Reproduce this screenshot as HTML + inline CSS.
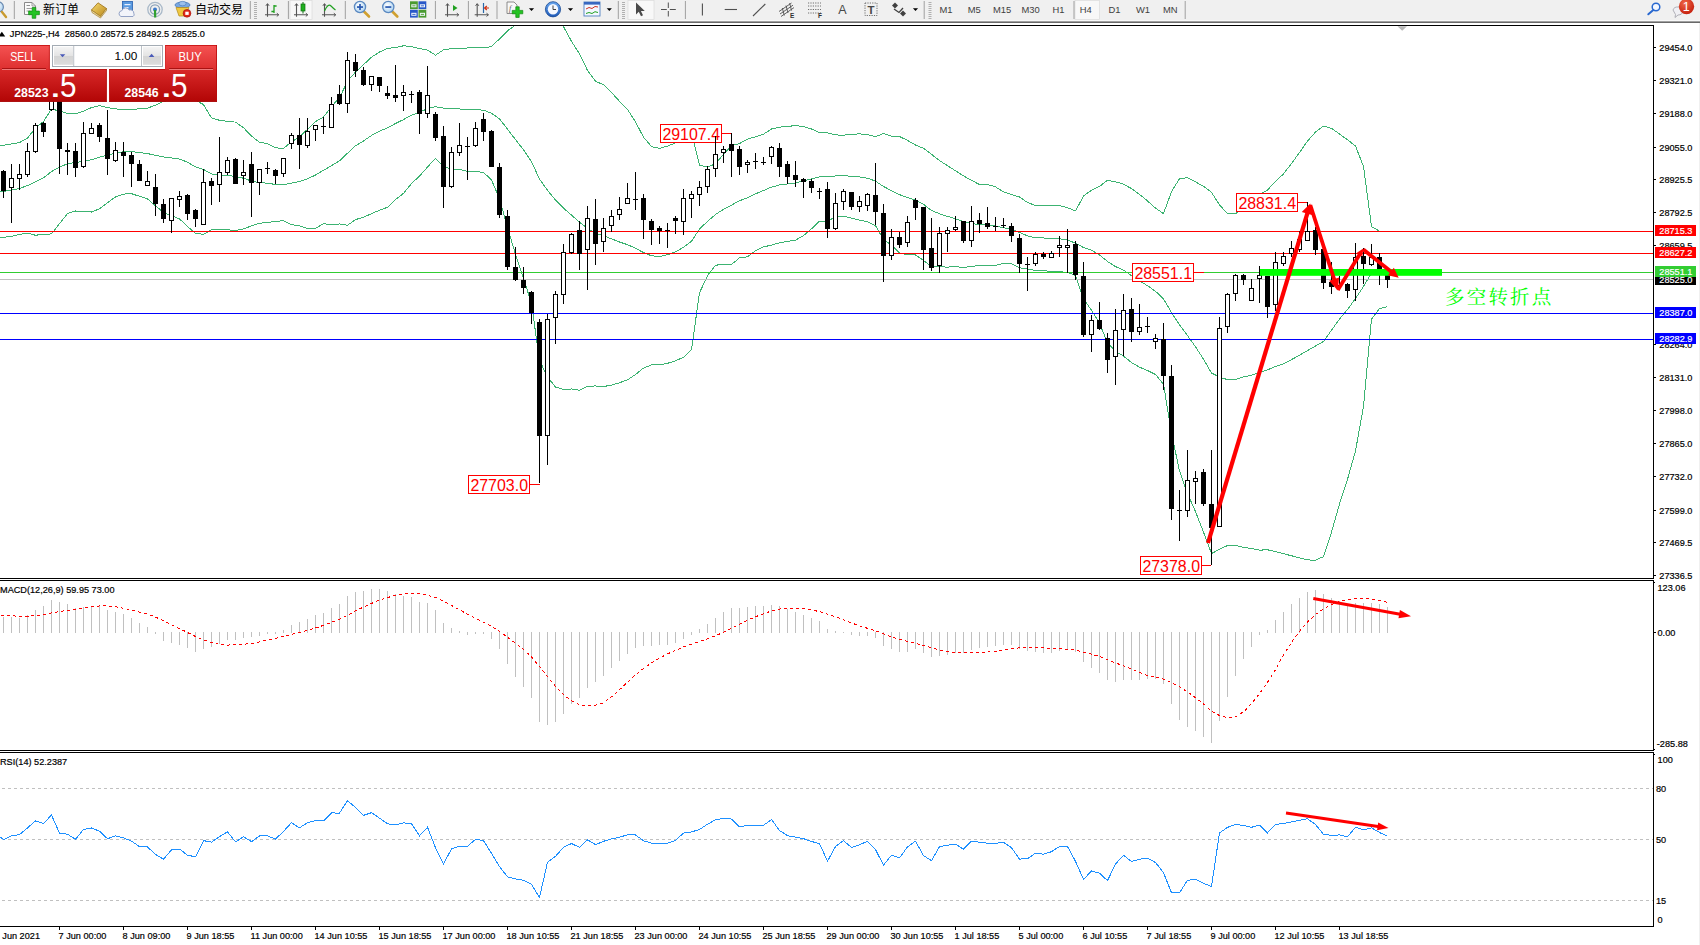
<!DOCTYPE html>
<html><head><meta charset="utf-8"><title>JPN225 H4</title>
<style>html,body{margin:0;padding:0;background:#fff;overflow:hidden}svg{display:block}text{white-space:pre}</style>
</head><body>
<svg width="1700" height="945" viewBox="0 0 1700 945">
<rect width="1700" height="945" fill="#fff"/>
<defs><clipPath id="cm"><rect x="0" y="26" width="1653" height="552"/></clipPath><clipPath id="cd"><rect x="0" y="581" width="1653" height="169"/></clipPath><clipPath id="cr"><rect x="0" y="753" width="1653" height="173"/></clipPath></defs>
<g id="main" clip-path="url(#cm)">
<polyline points="-4.5,145.54 3.5,145.23 11.5,143.95 19.5,142.55 27.5,137.97 35.5,128.03 43.5,121.47 51.5,109.06 59.5,110.93 67.5,113.65 75.5,114 83.5,111.2 91.5,107.57 99.5,105.75 107.5,107.6 115.5,108.93 123.5,109.42 131.5,109.48 139.5,108.74 147.5,108.1 155.5,105.19 163.5,101.32 171.5,100.11 179.5,99.19 187.5,97.83 195.5,100.34 203.5,104.57 211.5,117.91 219.5,120.29 227.5,121.3 235.5,122.11 243.5,127.67 251.5,136.1 259.5,142.17 267.5,143.68 275.5,147.84 283.5,148.39 291.5,141.78 299.5,136.86 307.5,129.29 315.5,121.61 323.5,116.96 331.5,106.48 339.5,97.87 347.5,81.15 355.5,72.05 363.5,64.65 371.5,57.22 379.5,51.96 387.5,48.46 395.5,47.53 403.5,45.79 411.5,46.64 419.5,48.55 427.5,50.16 435.5,55.14 443.5,49.84 451.5,48.65 459.5,48.66 467.5,48 475.5,47.99 483.5,47.92 491.5,46.5 499.5,38.91 507.5,30.81 515.5,25.06 523.5,21.33 531.5,19.45 539.5,-2.12 547.5,3.53 555.5,13.21 563.5,26.7 571.5,41.26 579.5,53.99 587.5,70.45 595.5,81.25 603.5,84.78 611.5,92.53 619.5,101.29 627.5,109.4 635.5,121.82 643.5,137.17 651.5,146.59 659.5,148.4 667.5,146.05 675.5,142.85 683.5,137.29 691.5,133.42 699.5,165 707.5,167.25 715.5,163.67 723.5,154.25 731.5,145.73 739.5,143.64 747.5,139.11 755.5,136.87 763.5,134.2 771.5,129.02 779.5,127.15 787.5,126.3 795.5,125.72 803.5,126.47 811.5,128.97 819.5,132.64 827.5,132.75 835.5,134.9 843.5,135.2 851.5,134.35 859.5,133.88 867.5,134.63 875.5,136.56 883.5,133.54 891.5,136.23 899.5,136.54 907.5,140.35 915.5,145.03 923.5,148.27 931.5,154.32 939.5,160.61 947.5,165.68 955.5,170.81 963.5,175.87 971.5,180.32 979.5,184.56 987.5,184.46 995.5,186.87 1003.5,191.94 1011.5,194.61 1019.5,197.02 1027.5,202.52 1035.5,205.54 1043.5,205.51 1051.5,205.68 1059.5,205.68 1067.5,207.68 1075.5,210.9 1083.5,196.11 1091.5,190.17 1099.5,186.5 1107.5,180.2 1115.5,181.84 1123.5,184.11 1131.5,188.63 1139.5,194.35 1147.5,200.95 1155.5,208.09 1163.5,213.58 1171.5,191.64 1179.5,178.71 1187.5,177.65 1195.5,181.93 1203.5,186.21 1211.5,192.33 1219.5,204.9 1227.5,213.78 1235.5,213.8 1243.5,206.38 1251.5,201.96 1259.5,194.94 1267.5,190 1275.5,181.35 1283.5,173.92 1291.5,163.48 1299.5,152.57 1307.5,141.06 1315.5,132.04 1323.5,126.14 1331.5,128.32 1339.5,134.02 1347.5,139.76 1355.5,146.05 1363.5,166.41 1371.5,226.57 1379.5,231.24 1387.5,231.86" fill="none" stroke="#3cb371" stroke-width="1" shape-rendering="crispEdges"/>
<polyline points="-4.5,191.79 3.5,191.33 11.5,190.14 19.5,188.43 27.5,185.56 35.5,181.65 43.5,177.86 51.5,171.51 59.5,167.29 67.5,163.63 75.5,162.5 83.5,161.32 91.5,159.81 99.5,157.23 107.5,155.16 115.5,152.93 123.5,151.75 131.5,151.58 139.5,152.52 147.5,153.53 155.5,155.45 163.5,156.89 171.5,157.91 179.5,159.02 187.5,162.17 195.5,166.89 203.5,169.42 211.5,173.89 219.5,175.09 227.5,175.51 235.5,176.33 243.5,178.24 251.5,181.02 259.5,182.67 267.5,183.19 275.5,184.5 283.5,184.63 291.5,183.17 299.5,181.41 307.5,178.9 315.5,174.99 323.5,170.32 331.5,165.56 339.5,160.93 347.5,153.23 355.5,145.83 363.5,140.94 371.5,135.44 379.5,131.11 387.5,127.86 395.5,123.52 403.5,119.58 411.5,115.09 419.5,112.31 427.5,108.61 435.5,106.68 443.5,108.1 451.5,108.96 459.5,108.95 467.5,109.67 475.5,109.82 483.5,110.11 491.5,113.27 499.5,118.83 507.5,129.17 515.5,139.61 523.5,149.75 531.5,161.59 539.5,179.08 547.5,190.28 555.5,200.11 563.5,208.1 571.5,215.12 579.5,222.16 587.5,228.31 595.5,233.61 603.5,235.65 611.5,238.85 619.5,242.02 627.5,244.66 635.5,248.18 643.5,252.61 651.5,255.76 659.5,256.57 667.5,254.72 675.5,251.79 683.5,247.32 691.5,241.37 699.5,228.94 707.5,221.44 715.5,214.45 723.5,209.3 731.5,205.13 739.5,200.74 747.5,197.93 755.5,193.82 763.5,190.55 771.5,187.08 779.5,184.98 787.5,183.89 795.5,182.92 803.5,181.02 811.5,178.92 819.5,176.91 827.5,176.89 835.5,175.98 843.5,175.64 851.5,176.25 859.5,176.97 867.5,178.22 875.5,181.11 883.5,186.45 891.5,190.76 899.5,194.67 907.5,197.64 915.5,199.99 923.5,204.37 931.5,210.39 939.5,213.73 947.5,216.38 955.5,218.74 963.5,221.67 971.5,223.37 979.5,225.01 987.5,224.88 995.5,226.05 1003.5,227.74 1011.5,229.23 1019.5,232.37 1027.5,235.84 1035.5,237.95 1043.5,237.96 1051.5,238.78 1059.5,238.78 1067.5,239.92 1075.5,243.26 1083.5,247.52 1091.5,250.17 1099.5,254.93 1107.5,261.47 1115.5,266.6 1123.5,270.06 1131.5,275.61 1139.5,280.75 1147.5,285.7 1155.5,291.29 1163.5,298.85 1171.5,312.51 1179.5,324.79 1187.5,335.62 1195.5,346.79 1203.5,359.18 1211.5,372.96 1219.5,377.13 1227.5,379.62 1235.5,379.63 1243.5,376.86 1251.5,375.22 1259.5,372.55 1267.5,369.87 1275.5,366.53 1283.5,363.82 1291.5,359.62 1299.5,355.23 1307.5,350.51 1315.5,346.07 1323.5,341.39 1331.5,330.27 1339.5,319.02 1347.5,309.55 1355.5,298.49 1363.5,286.45 1371.5,272.87 1379.5,269.93 1387.5,269.18" fill="none" stroke="#3cb371" stroke-width="1" shape-rendering="crispEdges"/>
<polyline points="-4.5,238.04 3.5,237.42 11.5,236.32 19.5,234.32 27.5,233.15 35.5,235.26 43.5,234.24 51.5,233.95 59.5,223.65 67.5,213.61 75.5,211 83.5,211.44 91.5,212.04 99.5,208.72 107.5,202.73 115.5,196.93 123.5,194.07 131.5,193.68 139.5,196.3 147.5,198.96 155.5,205.71 163.5,212.45 171.5,215.71 179.5,218.85 187.5,226.51 195.5,233.44 203.5,234.28 211.5,229.88 219.5,229.88 227.5,229.71 235.5,230.54 243.5,228.81 251.5,225.95 259.5,223.16 267.5,222.7 275.5,221.16 283.5,220.88 291.5,224.56 299.5,225.96 307.5,228.52 315.5,228.36 323.5,223.67 331.5,224.65 339.5,223.99 347.5,225.31 355.5,219.6 363.5,217.24 371.5,213.67 379.5,210.25 387.5,207.26 395.5,199.52 403.5,193.36 411.5,183.55 419.5,176.07 427.5,167.06 435.5,158.23 443.5,166.36 451.5,169.27 459.5,169.25 467.5,171.34 475.5,171.66 483.5,172.3 491.5,180.04 499.5,198.75 507.5,227.54 515.5,254.16 523.5,278.16 531.5,303.73 539.5,360.28 547.5,377.02 555.5,387.01 563.5,389.51 571.5,388.98 579.5,390.33 587.5,386.18 595.5,385.96 603.5,386.52 611.5,385.17 619.5,382.74 627.5,379.92 635.5,374.53 643.5,368.06 651.5,364.93 659.5,364.75 667.5,363.38 675.5,360.72 683.5,357.34 691.5,349.32 699.5,292.89 707.5,275.64 715.5,265.23 723.5,264.35 731.5,264.53 739.5,257.83 747.5,256.75 755.5,250.78 763.5,246.89 771.5,245.14 779.5,242.81 787.5,241.48 795.5,240.13 803.5,235.57 811.5,228.86 819.5,221.19 827.5,221.02 835.5,217.06 843.5,216.07 851.5,218.14 859.5,220.05 867.5,221.8 875.5,225.66 883.5,239.37 891.5,245.29 899.5,252.79 907.5,254.92 915.5,254.95 923.5,260.47 931.5,266.46 939.5,266.85 947.5,267.07 955.5,266.67 963.5,267.47 971.5,266.41 979.5,265.47 987.5,265.29 995.5,265.23 1003.5,263.55 1011.5,263.85 1019.5,267.73 1027.5,269.16 1035.5,270.35 1043.5,270.42 1051.5,271.87 1059.5,271.87 1067.5,272.16 1075.5,275.62 1083.5,298.93 1091.5,310.17 1099.5,323.36 1107.5,342.73 1115.5,351.36 1123.5,356.02 1131.5,362.59 1139.5,367.16 1147.5,370.46 1155.5,374.49 1163.5,384.13 1171.5,433.38 1179.5,470.88 1187.5,493.59 1195.5,511.65 1203.5,532.15 1211.5,553.58 1219.5,549.37 1227.5,545.46 1235.5,545.45 1243.5,547.35 1251.5,548.47 1259.5,550.17 1267.5,549.75 1275.5,551.7 1283.5,553.72 1291.5,555.75 1299.5,557.88 1307.5,559.97 1315.5,560.09 1323.5,556.63 1331.5,532.21 1339.5,504.01 1347.5,479.34 1355.5,450.93 1363.5,406.5 1371.5,319.16 1379.5,308.61 1387.5,306.51" fill="none" stroke="#3cb371" stroke-width="1" shape-rendering="crispEdges"/>
<line x1="0" y1="231.5" x2="1653" y2="231.5" stroke="#ff0000" stroke-width="1"/>
<line x1="0" y1="253.5" x2="1653" y2="253.5" stroke="#ff0000" stroke-width="1"/>
<line x1="0" y1="272.5" x2="1653" y2="272.5" stroke="#32cd32" stroke-width="1"/>
<line x1="0" y1="279.5" x2="1653" y2="279.5" stroke="#c0c0c0" stroke-width="1"/>
<line x1="0" y1="313.5" x2="1653" y2="313.5" stroke="#0000ff" stroke-width="1"/>
<line x1="0" y1="339.5" x2="1653" y2="339.5" stroke="#0000ff" stroke-width="1"/>

<g shape-rendering="crispEdges"><rect x="722" y="133" width="9" height="1" fill="#ff0000"/>
<rect x="660" y="124" width="62" height="19" fill="#ff0000"/><rect x="661" y="125" width="60" height="17" fill="#fff"/></g>
<text x="662.4" y="140.1" font-family="'Liberation Sans', sans-serif" font-size="17" fill="#ff0000" text-anchor="start" font-weight="normal" textLength="57.6" lengthAdjust="spacingAndGlyphs">29107.4</text>
<g shape-rendering="crispEdges"><rect x="530" y="484" width="10" height="1" fill="#ff0000"/>
<rect x="468" y="475" width="62" height="19" fill="#ff0000"/><rect x="469" y="476" width="60" height="17" fill="#fff"/></g>
<text x="470.4" y="491.1" font-family="'Liberation Sans', sans-serif" font-size="17" fill="#ff0000" text-anchor="start" font-weight="normal" textLength="57.6" lengthAdjust="spacingAndGlyphs">27703.0</text>
<g shape-rendering="crispEdges"><rect x="1194" y="272" width="10" height="1" fill="#ff0000"/>
<rect x="1132" y="263" width="62" height="19" fill="#ff0000"/><rect x="1133" y="264" width="60" height="17" fill="#fff"/></g>
<text x="1134.4" y="279.1" font-family="'Liberation Sans', sans-serif" font-size="17" fill="#ff0000" text-anchor="start" font-weight="normal" textLength="57.6" lengthAdjust="spacingAndGlyphs">28551.1</text>
<g shape-rendering="crispEdges"><rect x="1298" y="202" width="10" height="1" fill="#ff0000"/>
<rect x="1236" y="193" width="62" height="19" fill="#ff0000"/><rect x="1237" y="194" width="60" height="17" fill="#fff"/></g>
<text x="1238.4" y="209.1" font-family="'Liberation Sans', sans-serif" font-size="17" fill="#ff0000" text-anchor="start" font-weight="normal" textLength="57.6" lengthAdjust="spacingAndGlyphs">28831.4</text>
<g shape-rendering="crispEdges"><rect x="1202" y="565" width="9" height="1" fill="#ff0000"/>
<rect x="1140" y="556" width="62" height="19" fill="#ff0000"/><rect x="1141" y="557" width="60" height="17" fill="#fff"/></g>
<text x="1142.4" y="572.1" font-family="'Liberation Sans', sans-serif" font-size="17" fill="#ff0000" text-anchor="start" font-weight="normal" textLength="57.6" lengthAdjust="spacingAndGlyphs">27378.0</text>
<g shape-rendering="crispEdges">
<rect x="3" y="170" width="1" height="28" fill="#000"/>
<rect x="1" y="171" width="5" height="20" fill="#000"/>
<rect x="11" y="164" width="1" height="59" fill="#000"/>
<rect x="9" y="178" width="5" height="10" fill="#000"/><rect x="10" y="179" width="3" height="8" fill="#fff"/>
<rect x="19" y="164" width="1" height="26" fill="#000"/>
<rect x="17" y="174" width="5" height="5" fill="#000"/><rect x="18" y="175" width="3" height="3" fill="#fff"/>
<rect x="27" y="143" width="1" height="34" fill="#000"/>
<rect x="25" y="151" width="5" height="24" fill="#000"/><rect x="26" y="152" width="3" height="22" fill="#fff"/>
<rect x="35" y="123" width="1" height="30" fill="#000"/>
<rect x="33" y="125" width="5" height="27" fill="#000"/><rect x="34" y="126" width="3" height="25" fill="#fff"/>
<rect x="43" y="122" width="1" height="15" fill="#000"/>
<rect x="41" y="123" width="5" height="9" fill="#000"/>
<rect x="51" y="93" width="1" height="18" fill="#000"/>
<rect x="49" y="97" width="5" height="13" fill="#000"/><rect x="50" y="98" width="3" height="11" fill="#fff"/>
<rect x="59" y="90" width="1" height="84" fill="#000"/>
<rect x="57" y="97" width="5" height="52" fill="#000"/>
<rect x="67" y="143" width="1" height="32" fill="#000"/>
<rect x="65" y="150" width="5" height="2" fill="#000"/>
<rect x="75" y="143" width="1" height="34" fill="#000"/>
<rect x="73" y="151" width="5" height="17" fill="#000"/>
<rect x="83" y="122" width="1" height="46" fill="#000"/>
<rect x="81" y="133" width="5" height="34" fill="#000"/><rect x="82" y="134" width="3" height="32" fill="#fff"/>
<rect x="91" y="123" width="1" height="11" fill="#000"/>
<rect x="89" y="128" width="5" height="6" fill="#000"/><rect x="90" y="129" width="3" height="4" fill="#fff"/>
<rect x="99" y="123" width="1" height="19" fill="#000"/>
<rect x="97" y="125" width="5" height="12" fill="#000"/>
<rect x="107" y="110" width="1" height="65" fill="#000"/>
<rect x="105" y="138" width="5" height="21" fill="#000"/>
<rect x="115" y="142" width="1" height="20" fill="#000"/>
<rect x="113" y="150" width="5" height="11" fill="#000"/><rect x="114" y="151" width="3" height="9" fill="#fff"/>
<rect x="123" y="142" width="1" height="35" fill="#000"/>
<rect x="121" y="152" width="5" height="4" fill="#000"/>
<rect x="131" y="152" width="1" height="35" fill="#000"/>
<rect x="129" y="155" width="5" height="9" fill="#000"/>
<rect x="139" y="160" width="1" height="21" fill="#000"/>
<rect x="137" y="164" width="5" height="17" fill="#000"/>
<rect x="147" y="171" width="1" height="15" fill="#000"/>
<rect x="145" y="181" width="5" height="5" fill="#000"/><rect x="146" y="182" width="3" height="3" fill="#fff"/>
<rect x="155" y="174" width="1" height="42" fill="#000"/>
<rect x="153" y="187" width="5" height="17" fill="#000"/>
<rect x="163" y="199" width="1" height="24" fill="#000"/>
<rect x="161" y="204" width="5" height="15" fill="#000"/>
<rect x="171" y="198" width="1" height="35" fill="#000"/>
<rect x="169" y="198" width="5" height="23" fill="#000"/><rect x="170" y="199" width="3" height="21" fill="#fff"/>
<rect x="179" y="191" width="1" height="16" fill="#000"/>
<rect x="177" y="196" width="5" height="4" fill="#000"/><rect x="178" y="197" width="3" height="2" fill="#fff"/>
<rect x="187" y="194" width="1" height="26" fill="#000"/>
<rect x="185" y="195" width="5" height="19" fill="#000"/>
<rect x="195" y="209" width="1" height="18" fill="#000"/>
<rect x="193" y="210" width="5" height="9" fill="#000"/>
<rect x="203" y="169" width="1" height="56" fill="#000"/>
<rect x="201" y="182" width="5" height="43" fill="#000"/><rect x="202" y="183" width="3" height="41" fill="#fff"/>
<rect x="211" y="178" width="1" height="27" fill="#000"/>
<rect x="209" y="181" width="5" height="5" fill="#000"/>
<rect x="219" y="137" width="1" height="65" fill="#000"/>
<rect x="217" y="172" width="5" height="13" fill="#000"/><rect x="218" y="173" width="3" height="11" fill="#fff"/>
<rect x="227" y="157" width="1" height="18" fill="#000"/>
<rect x="225" y="160" width="5" height="13" fill="#000"/><rect x="226" y="161" width="3" height="11" fill="#fff"/>
<rect x="235" y="158" width="1" height="26" fill="#000"/>
<rect x="233" y="159" width="5" height="25" fill="#000"/>
<rect x="243" y="160" width="1" height="25" fill="#000"/>
<rect x="241" y="172" width="5" height="4" fill="#000"/><rect x="242" y="173" width="3" height="2" fill="#fff"/>
<rect x="251" y="152" width="1" height="65" fill="#000"/>
<rect x="249" y="164" width="5" height="19" fill="#000"/>
<rect x="259" y="169" width="1" height="26" fill="#000"/>
<rect x="257" y="169" width="5" height="14" fill="#000"/><rect x="258" y="170" width="3" height="12" fill="#fff"/>
<rect x="267" y="162" width="1" height="12" fill="#000"/>
<rect x="265" y="168" width="5" height="1" fill="#000"/>
<rect x="275" y="169" width="1" height="15" fill="#000"/>
<rect x="273" y="170" width="5" height="6" fill="#000"/>
<rect x="283" y="158" width="1" height="19" fill="#000"/>
<rect x="281" y="158" width="5" height="16" fill="#000"/><rect x="282" y="159" width="3" height="14" fill="#fff"/>
<rect x="291" y="133" width="1" height="16" fill="#000"/>
<rect x="289" y="135" width="5" height="9" fill="#000"/><rect x="290" y="136" width="3" height="7" fill="#fff"/>
<rect x="299" y="118" width="1" height="51" fill="#000"/>
<rect x="297" y="135" width="5" height="10" fill="#000"/>
<rect x="307" y="118" width="1" height="30" fill="#000"/>
<rect x="305" y="131" width="5" height="15" fill="#000"/><rect x="306" y="132" width="3" height="13" fill="#fff"/>
<rect x="315" y="125" width="1" height="16" fill="#000"/>
<rect x="313" y="125" width="5" height="5" fill="#000"/><rect x="314" y="126" width="3" height="3" fill="#fff"/>
<rect x="323" y="117" width="1" height="17" fill="#000"/>
<rect x="321" y="126" width="5" height="1" fill="#000"/>
<rect x="331" y="97" width="1" height="31" fill="#000"/>
<rect x="329" y="104" width="5" height="24" fill="#000"/><rect x="330" y="105" width="3" height="22" fill="#fff"/>
<rect x="339" y="85" width="1" height="20" fill="#000"/>
<rect x="337" y="94" width="5" height="10" fill="#000"/>
<rect x="347" y="52" width="1" height="61" fill="#000"/>
<rect x="345" y="60" width="5" height="44" fill="#000"/><rect x="346" y="61" width="3" height="42" fill="#fff"/>
<rect x="355" y="54" width="1" height="23" fill="#000"/>
<rect x="353" y="62" width="5" height="9" fill="#000"/>
<rect x="363" y="67" width="1" height="19" fill="#000"/>
<rect x="361" y="70" width="5" height="15" fill="#000"/>
<rect x="371" y="76" width="1" height="15" fill="#000"/>
<rect x="369" y="76" width="5" height="9" fill="#000"/><rect x="370" y="77" width="3" height="7" fill="#fff"/>
<rect x="379" y="77" width="1" height="15" fill="#000"/>
<rect x="377" y="77" width="5" height="9" fill="#000"/>
<rect x="387" y="86" width="1" height="13" fill="#000"/>
<rect x="385" y="93" width="5" height="3" fill="#000"/>
<rect x="395" y="65" width="1" height="37" fill="#000"/>
<rect x="393" y="95" width="5" height="3" fill="#000"/>
<rect x="403" y="85" width="1" height="26" fill="#000"/>
<rect x="401" y="92" width="5" height="4" fill="#000"/><rect x="402" y="93" width="3" height="2" fill="#fff"/>
<rect x="411" y="91" width="1" height="12" fill="#000"/>
<rect x="409" y="94" width="5" height="1" fill="#000"/>
<rect x="419" y="90" width="1" height="44" fill="#000"/>
<rect x="417" y="92" width="5" height="22" fill="#000"/>
<rect x="427" y="66" width="1" height="52" fill="#000"/>
<rect x="425" y="95" width="5" height="19" fill="#000"/><rect x="426" y="96" width="3" height="17" fill="#fff"/>
<rect x="435" y="112" width="1" height="29" fill="#000"/>
<rect x="433" y="114" width="5" height="24" fill="#000"/>
<rect x="443" y="126" width="1" height="82" fill="#000"/>
<rect x="441" y="136" width="5" height="51" fill="#000"/>
<rect x="451" y="147" width="1" height="41" fill="#000"/>
<rect x="449" y="152" width="5" height="35" fill="#000"/><rect x="450" y="153" width="3" height="33" fill="#fff"/>
<rect x="459" y="123" width="1" height="33" fill="#000"/>
<rect x="457" y="145" width="5" height="8" fill="#000"/><rect x="458" y="146" width="3" height="6" fill="#fff"/>
<rect x="467" y="137" width="1" height="43" fill="#000"/>
<rect x="465" y="146" width="5" height="1" fill="#000"/>
<rect x="475" y="122" width="1" height="25" fill="#000"/>
<rect x="473" y="128" width="5" height="18" fill="#000"/><rect x="474" y="129" width="3" height="16" fill="#fff"/>
<rect x="483" y="113" width="1" height="28" fill="#000"/>
<rect x="481" y="119" width="5" height="13" fill="#000"/>
<rect x="491" y="130" width="1" height="37" fill="#000"/>
<rect x="489" y="131" width="5" height="36" fill="#000"/>
<rect x="499" y="163" width="1" height="55" fill="#000"/>
<rect x="497" y="167" width="5" height="48" fill="#000"/>
<rect x="507" y="210" width="1" height="60" fill="#000"/>
<rect x="505" y="216" width="5" height="51" fill="#000"/>
<rect x="515" y="247" width="1" height="34" fill="#000"/>
<rect x="513" y="267" width="5" height="13" fill="#000"/>
<rect x="523" y="267" width="1" height="27" fill="#000"/>
<rect x="521" y="280" width="5" height="8" fill="#000"/>
<rect x="531" y="291" width="1" height="33" fill="#000"/>
<rect x="529" y="292" width="5" height="21" fill="#000"/>
<rect x="539" y="319" width="1" height="164" fill="#000"/>
<rect x="537" y="322" width="5" height="114" fill="#000"/>
<rect x="547" y="314" width="1" height="151" fill="#000"/>
<rect x="545" y="319" width="5" height="117" fill="#000"/><rect x="546" y="320" width="3" height="115" fill="#fff"/>
<rect x="555" y="291" width="1" height="53" fill="#000"/>
<rect x="553" y="294" width="5" height="24" fill="#000"/><rect x="554" y="295" width="3" height="22" fill="#fff"/>
<rect x="563" y="244" width="1" height="60" fill="#000"/>
<rect x="561" y="252" width="5" height="43" fill="#000"/><rect x="562" y="253" width="3" height="41" fill="#fff"/>
<rect x="571" y="233" width="1" height="21" fill="#000"/>
<rect x="569" y="234" width="5" height="19" fill="#000"/><rect x="570" y="235" width="3" height="17" fill="#fff"/>
<rect x="579" y="221" width="1" height="49" fill="#000"/>
<rect x="577" y="230" width="5" height="24" fill="#000"/>
<rect x="587" y="206" width="1" height="84" fill="#000"/>
<rect x="585" y="218" width="5" height="32" fill="#000"/><rect x="586" y="219" width="3" height="30" fill="#fff"/>
<rect x="595" y="199" width="1" height="66" fill="#000"/>
<rect x="593" y="219" width="5" height="25" fill="#000"/>
<rect x="603" y="218" width="1" height="34" fill="#000"/>
<rect x="601" y="228" width="5" height="14" fill="#000"/><rect x="602" y="229" width="3" height="12" fill="#fff"/>
<rect x="611" y="210" width="1" height="22" fill="#000"/>
<rect x="609" y="216" width="5" height="10" fill="#000"/><rect x="610" y="217" width="3" height="8" fill="#fff"/>
<rect x="619" y="197" width="1" height="23" fill="#000"/>
<rect x="617" y="209" width="5" height="6" fill="#000"/><rect x="618" y="210" width="3" height="4" fill="#fff"/>
<rect x="627" y="183" width="1" height="21" fill="#000"/>
<rect x="625" y="198" width="5" height="6" fill="#000"/><rect x="626" y="199" width="3" height="4" fill="#fff"/>
<rect x="635" y="172" width="1" height="38" fill="#000"/>
<rect x="633" y="199" width="5" height="1" fill="#000"/>
<rect x="643" y="194" width="1" height="45" fill="#000"/>
<rect x="641" y="198" width="5" height="22" fill="#000"/>
<rect x="651" y="219" width="1" height="26" fill="#000"/>
<rect x="649" y="221" width="5" height="9" fill="#000"/>
<rect x="659" y="226" width="1" height="18" fill="#000"/>
<rect x="657" y="228" width="5" height="3" fill="#000"/>
<rect x="667" y="223" width="1" height="25" fill="#000"/>
<rect x="665" y="230" width="5" height="1" fill="#000"/>
<rect x="675" y="216" width="1" height="18" fill="#000"/>
<rect x="673" y="218" width="5" height="3" fill="#000"/>
<rect x="683" y="189" width="1" height="46" fill="#000"/>
<rect x="681" y="198" width="5" height="24" fill="#000"/><rect x="682" y="199" width="3" height="22" fill="#fff"/>
<rect x="691" y="191" width="1" height="27" fill="#000"/>
<rect x="689" y="194" width="5" height="5" fill="#000"/><rect x="690" y="195" width="3" height="3" fill="#fff"/>
<rect x="699" y="181" width="1" height="25" fill="#000"/>
<rect x="697" y="187" width="5" height="8" fill="#000"/><rect x="698" y="188" width="3" height="6" fill="#fff"/>
<rect x="707" y="166" width="1" height="27" fill="#000"/>
<rect x="705" y="169" width="5" height="18" fill="#000"/><rect x="706" y="170" width="3" height="16" fill="#fff"/>
<rect x="715" y="136" width="1" height="41" fill="#000"/>
<rect x="713" y="154" width="5" height="15" fill="#000"/><rect x="714" y="155" width="3" height="13" fill="#fff"/>
<rect x="723" y="146" width="1" height="17" fill="#000"/>
<rect x="721" y="149" width="5" height="4" fill="#000"/><rect x="722" y="150" width="3" height="2" fill="#fff"/>
<rect x="731" y="133" width="1" height="44" fill="#000"/>
<rect x="729" y="144" width="5" height="7" fill="#000"/>
<rect x="739" y="146" width="1" height="29" fill="#000"/>
<rect x="737" y="149" width="5" height="18" fill="#000"/>
<rect x="747" y="160" width="1" height="13" fill="#000"/>
<rect x="745" y="162" width="5" height="3" fill="#000"/><rect x="746" y="163" width="3" height="1" fill="#fff"/>
<rect x="755" y="153" width="1" height="16" fill="#000"/>
<rect x="753" y="161" width="5" height="1" fill="#000"/>
<rect x="763" y="157" width="1" height="8" fill="#000"/>
<rect x="761" y="162" width="5" height="1" fill="#000"/>
<rect x="771" y="146" width="1" height="18" fill="#000"/>
<rect x="769" y="147" width="5" height="10" fill="#000"/><rect x="770" y="148" width="3" height="8" fill="#fff"/>
<rect x="779" y="143" width="1" height="34" fill="#000"/>
<rect x="777" y="148" width="5" height="19" fill="#000"/>
<rect x="787" y="161" width="1" height="23" fill="#000"/>
<rect x="785" y="164" width="5" height="13" fill="#000"/>
<rect x="795" y="161" width="1" height="26" fill="#000"/>
<rect x="793" y="175" width="5" height="5" fill="#000"/>
<rect x="803" y="178" width="1" height="20" fill="#000"/>
<rect x="801" y="179" width="5" height="3" fill="#000"/>
<rect x="811" y="179" width="1" height="14" fill="#000"/>
<rect x="809" y="181" width="5" height="7" fill="#000"/>
<rect x="819" y="188" width="1" height="11" fill="#000"/>
<rect x="817" y="191" width="5" height="1" fill="#000"/>
<rect x="827" y="182" width="1" height="56" fill="#000"/>
<rect x="825" y="189" width="5" height="40" fill="#000"/>
<rect x="835" y="193" width="1" height="37" fill="#000"/>
<rect x="833" y="203" width="5" height="26" fill="#000"/><rect x="834" y="204" width="3" height="24" fill="#fff"/>
<rect x="843" y="189" width="1" height="21" fill="#000"/>
<rect x="841" y="191" width="5" height="11" fill="#000"/><rect x="842" y="192" width="3" height="9" fill="#fff"/>
<rect x="851" y="192" width="1" height="18" fill="#000"/>
<rect x="849" y="192" width="5" height="15" fill="#000"/>
<rect x="859" y="196" width="1" height="16" fill="#000"/>
<rect x="857" y="201" width="5" height="6" fill="#000"/><rect x="858" y="202" width="3" height="4" fill="#fff"/>
<rect x="867" y="193" width="1" height="18" fill="#000"/>
<rect x="865" y="194" width="5" height="12" fill="#000"/><rect x="866" y="195" width="3" height="10" fill="#fff"/>
<rect x="875" y="163" width="1" height="62" fill="#000"/>
<rect x="873" y="195" width="5" height="17" fill="#000"/>
<rect x="883" y="204" width="1" height="78" fill="#000"/>
<rect x="881" y="213" width="5" height="43" fill="#000"/>
<rect x="891" y="229" width="1" height="31" fill="#000"/>
<rect x="889" y="237" width="5" height="19" fill="#000"/><rect x="890" y="238" width="3" height="17" fill="#fff"/>
<rect x="899" y="232" width="1" height="16" fill="#000"/>
<rect x="897" y="237" width="5" height="8" fill="#000"/>
<rect x="907" y="216" width="1" height="31" fill="#000"/>
<rect x="905" y="222" width="5" height="21" fill="#000"/><rect x="906" y="223" width="3" height="19" fill="#fff"/>
<rect x="915" y="198" width="1" height="22" fill="#000"/>
<rect x="913" y="200" width="5" height="8" fill="#000"/>
<rect x="923" y="207" width="1" height="63" fill="#000"/>
<rect x="921" y="207" width="5" height="43" fill="#000"/>
<rect x="931" y="218" width="1" height="53" fill="#000"/>
<rect x="929" y="248" width="5" height="20" fill="#000"/>
<rect x="939" y="227" width="1" height="46" fill="#000"/>
<rect x="937" y="233" width="5" height="33" fill="#000"/><rect x="938" y="234" width="3" height="31" fill="#fff"/>
<rect x="947" y="227" width="1" height="25" fill="#000"/>
<rect x="945" y="230" width="5" height="4" fill="#000"/><rect x="946" y="231" width="3" height="2" fill="#fff"/>
<rect x="955" y="216" width="1" height="15" fill="#000"/>
<rect x="953" y="227" width="5" height="3" fill="#000"/><rect x="954" y="228" width="3" height="1" fill="#fff"/>
<rect x="963" y="221" width="1" height="22" fill="#000"/>
<rect x="961" y="221" width="5" height="20" fill="#000"/>
<rect x="971" y="206" width="1" height="41" fill="#000"/>
<rect x="969" y="221" width="5" height="20" fill="#000"/><rect x="970" y="222" width="3" height="18" fill="#fff"/>
<rect x="979" y="213" width="1" height="20" fill="#000"/>
<rect x="977" y="220" width="5" height="4" fill="#000"/>
<rect x="987" y="207" width="1" height="22" fill="#000"/>
<rect x="985" y="223" width="5" height="4" fill="#000"/>
<rect x="995" y="217" width="1" height="14" fill="#000"/>
<rect x="993" y="226" width="5" height="1" fill="#000"/>
<rect x="1003" y="218" width="1" height="10" fill="#000"/>
<rect x="1001" y="225" width="5" height="1" fill="#000"/>
<rect x="1011" y="223" width="1" height="19" fill="#000"/>
<rect x="1009" y="226" width="5" height="10" fill="#000"/>
<rect x="1019" y="234" width="1" height="39" fill="#000"/>
<rect x="1017" y="238" width="5" height="26" fill="#000"/>
<rect x="1027" y="257" width="1" height="34" fill="#000"/>
<rect x="1025" y="264" width="5" height="1" fill="#000"/>
<rect x="1035" y="252" width="1" height="14" fill="#000"/>
<rect x="1033" y="254" width="5" height="10" fill="#000"/><rect x="1034" y="255" width="3" height="8" fill="#fff"/>
<rect x="1043" y="252" width="1" height="7" fill="#000"/>
<rect x="1041" y="254" width="5" height="3" fill="#000"/>
<rect x="1051" y="251" width="1" height="7" fill="#000"/>
<rect x="1049" y="253" width="5" height="5" fill="#000"/><rect x="1050" y="254" width="3" height="3" fill="#fff"/>
<rect x="1059" y="236" width="1" height="21" fill="#000"/>
<rect x="1057" y="245" width="5" height="3" fill="#000"/><rect x="1058" y="246" width="3" height="1" fill="#fff"/>
<rect x="1067" y="229" width="1" height="44" fill="#000"/>
<rect x="1065" y="245" width="5" height="3" fill="#000"/><rect x="1066" y="246" width="3" height="1" fill="#fff"/>
<rect x="1075" y="241" width="1" height="39" fill="#000"/>
<rect x="1073" y="244" width="5" height="31" fill="#000"/>
<rect x="1083" y="262" width="1" height="75" fill="#000"/>
<rect x="1081" y="276" width="5" height="59" fill="#000"/>
<rect x="1091" y="315" width="1" height="37" fill="#000"/>
<rect x="1089" y="320" width="5" height="15" fill="#000"/><rect x="1090" y="321" width="3" height="13" fill="#fff"/>
<rect x="1099" y="302" width="1" height="28" fill="#000"/>
<rect x="1097" y="320" width="5" height="9" fill="#000"/>
<rect x="1107" y="333" width="1" height="40" fill="#000"/>
<rect x="1105" y="338" width="5" height="22" fill="#000"/>
<rect x="1115" y="309" width="1" height="76" fill="#000"/>
<rect x="1113" y="330" width="5" height="27" fill="#000"/><rect x="1114" y="331" width="3" height="25" fill="#fff"/>
<rect x="1123" y="294" width="1" height="62" fill="#000"/>
<rect x="1121" y="310" width="5" height="20" fill="#000"/><rect x="1122" y="311" width="3" height="18" fill="#fff"/>
<rect x="1131" y="298" width="1" height="44" fill="#000"/>
<rect x="1129" y="309" width="5" height="23" fill="#000"/>
<rect x="1139" y="304" width="1" height="31" fill="#000"/>
<rect x="1137" y="327" width="5" height="5" fill="#000"/><rect x="1138" y="328" width="3" height="3" fill="#fff"/>
<rect x="1147" y="317" width="1" height="16" fill="#000"/>
<rect x="1145" y="326" width="5" height="1" fill="#000"/>
<rect x="1155" y="334" width="1" height="15" fill="#000"/>
<rect x="1153" y="338" width="5" height="4" fill="#000"/><rect x="1154" y="339" width="3" height="2" fill="#fff"/>
<rect x="1163" y="323" width="1" height="67" fill="#000"/>
<rect x="1161" y="339" width="5" height="37" fill="#000"/>
<rect x="1171" y="365" width="1" height="155" fill="#000"/>
<rect x="1169" y="376" width="5" height="133" fill="#000"/>
<rect x="1179" y="490" width="1" height="51" fill="#000"/>
<rect x="1177" y="510" width="5" height="1" fill="#000"/>
<rect x="1187" y="450" width="1" height="67" fill="#000"/>
<rect x="1185" y="480" width="5" height="31" fill="#000"/><rect x="1186" y="481" width="3" height="29" fill="#fff"/>
<rect x="1195" y="471" width="1" height="33" fill="#000"/>
<rect x="1193" y="478" width="5" height="4" fill="#000"/><rect x="1194" y="479" width="3" height="2" fill="#fff"/>
<rect x="1203" y="469" width="1" height="37" fill="#000"/>
<rect x="1201" y="472" width="5" height="32" fill="#000"/>
<rect x="1211" y="450" width="1" height="115" fill="#000"/>
<rect x="1209" y="504" width="5" height="24" fill="#000"/>
<rect x="1219" y="317" width="1" height="210" fill="#000"/>
<rect x="1217" y="328" width="5" height="199" fill="#000"/><rect x="1218" y="329" width="3" height="197" fill="#fff"/>
<rect x="1227" y="293" width="1" height="40" fill="#000"/>
<rect x="1225" y="294" width="5" height="33" fill="#000"/><rect x="1226" y="295" width="3" height="31" fill="#fff"/>
<rect x="1235" y="274" width="1" height="27" fill="#000"/>
<rect x="1233" y="275" width="5" height="19" fill="#000"/><rect x="1234" y="276" width="3" height="17" fill="#fff"/>
<rect x="1243" y="274" width="1" height="11" fill="#000"/>
<rect x="1241" y="275" width="5" height="5" fill="#000"/>
<rect x="1251" y="279" width="1" height="22" fill="#000"/>
<rect x="1249" y="288" width="5" height="13" fill="#000"/><rect x="1250" y="289" width="3" height="11" fill="#fff"/>
<rect x="1259" y="266" width="1" height="37" fill="#000"/>
<rect x="1257" y="275" width="5" height="4" fill="#000"/><rect x="1258" y="276" width="3" height="2" fill="#fff"/>
<rect x="1267" y="276" width="1" height="42" fill="#000"/>
<rect x="1265" y="276" width="5" height="31" fill="#000"/>
<rect x="1275" y="252" width="1" height="59" fill="#000"/>
<rect x="1273" y="262" width="5" height="43" fill="#000"/><rect x="1274" y="263" width="3" height="41" fill="#fff"/>
<rect x="1283" y="252" width="1" height="14" fill="#000"/>
<rect x="1281" y="256" width="5" height="8" fill="#000"/><rect x="1282" y="257" width="3" height="6" fill="#fff"/>
<rect x="1291" y="241" width="1" height="16" fill="#000"/>
<rect x="1289" y="248" width="5" height="6" fill="#000"/><rect x="1290" y="249" width="3" height="4" fill="#fff"/>
<rect x="1299" y="231" width="1" height="21" fill="#000"/>
<rect x="1297" y="239" width="5" height="11" fill="#000"/><rect x="1298" y="240" width="3" height="9" fill="#fff"/>
<rect x="1307" y="202" width="1" height="39" fill="#000"/>
<rect x="1305" y="231" width="5" height="10" fill="#000"/><rect x="1306" y="232" width="3" height="8" fill="#fff"/>
<rect x="1315" y="227" width="1" height="28" fill="#000"/>
<rect x="1313" y="230" width="5" height="20" fill="#000"/>
<rect x="1323" y="248" width="1" height="41" fill="#000"/>
<rect x="1321" y="249" width="5" height="34" fill="#000"/>
<rect x="1331" y="262" width="1" height="32" fill="#000"/>
<rect x="1329" y="282" width="5" height="5" fill="#000"/>
<rect x="1339" y="276" width="1" height="14" fill="#000"/>
<rect x="1337" y="285" width="5" height="1" fill="#000"/>
<rect x="1347" y="283" width="1" height="15" fill="#000"/>
<rect x="1345" y="284" width="5" height="7" fill="#000"/>
<rect x="1355" y="243" width="1" height="58" fill="#000"/>
<rect x="1353" y="257" width="5" height="33" fill="#000"/><rect x="1354" y="258" width="3" height="31" fill="#fff"/>
<rect x="1363" y="248" width="1" height="36" fill="#000"/>
<rect x="1361" y="256" width="5" height="8" fill="#000"/>
<rect x="1371" y="244" width="1" height="22" fill="#000"/>
<rect x="1369" y="257" width="5" height="8" fill="#000"/><rect x="1370" y="258" width="3" height="6" fill="#fff"/>
<rect x="1379" y="253" width="1" height="32" fill="#000"/>
<rect x="1377" y="257" width="5" height="13" fill="#000"/>
<rect x="1387" y="268" width="1" height="20" fill="#000"/>
<rect x="1385" y="271" width="5" height="9" fill="#000"/>
</g>
<rect x="1260" y="269" width="182" height="6.8" fill="#00ff00"/>
<text x="1445" y="304" font-family="'Liberation Serif','Noto Serif CJK SC',serif" font-size="19.5" fill="#00ff00" text-anchor="start" font-weight="normal" letter-spacing="2.2">多空转折点</text>
<line x1="1208" y1="543" x2="1307.88" y2="211.54" stroke="#ff0000" stroke-width="4.2" stroke-linecap="butt"/>
<polygon points="1310.3,203.5 1312.78,215.21 1301.77,211.89" fill="#ff0000"/>
<line x1="1310.3" y1="205" x2="1334.86" y2="281.36" stroke="#ff0000" stroke-width="3.8" stroke-linecap="butt"/>
<polygon points="1337.8,290.5 1329.13,280.68 1339.12,277.47" fill="#ff0000"/>
<line x1="1337.8" y1="290" x2="1360.37" y2="253.27" stroke="#ff0000" stroke-width="3.8" stroke-linecap="butt"/>
<polygon points="1363.3,248.5 1362.4,256.17 1356.87,252.76" fill="#ff0000"/>
<line x1="1363.3" y1="249.5" x2="1392.45" y2="272.8" stroke="#ff0000" stroke-width="3.8" stroke-linecap="butt"/>
<polygon points="1398.7,277.8 1387.92,275.27 1393.86,267.85" fill="#ff0000"/>
</g>
<g id="macd" clip-path="url(#cd)">
<g shape-rendering="crispEdges">
<rect x="3" y="617" width="1" height="16" fill="#c0c0c0"/>
<rect x="11" y="617" width="1" height="16" fill="#c0c0c0"/>
<rect x="19" y="618" width="1" height="15" fill="#c0c0c0"/>
<rect x="27" y="615" width="1" height="18" fill="#c0c0c0"/>
<rect x="35" y="610" width="1" height="23" fill="#c0c0c0"/>
<rect x="43" y="606" width="1" height="27" fill="#c0c0c0"/>
<rect x="51" y="600" width="1" height="33" fill="#c0c0c0"/>
<rect x="59" y="602" width="1" height="31" fill="#c0c0c0"/>
<rect x="67" y="604" width="1" height="29" fill="#c0c0c0"/>
<rect x="75" y="608" width="1" height="25" fill="#c0c0c0"/>
<rect x="83" y="607" width="1" height="26" fill="#c0c0c0"/>
<rect x="91" y="606" width="1" height="27" fill="#c0c0c0"/>
<rect x="99" y="606" width="1" height="27" fill="#c0c0c0"/>
<rect x="107" y="610" width="1" height="23" fill="#c0c0c0"/>
<rect x="115" y="612" width="1" height="21" fill="#c0c0c0"/>
<rect x="123" y="614" width="1" height="19" fill="#c0c0c0"/>
<rect x="131" y="618" width="1" height="15" fill="#c0c0c0"/>
<rect x="139" y="623" width="1" height="10" fill="#c0c0c0"/>
<rect x="147" y="627" width="1" height="6" fill="#c0c0c0"/>
<rect x="155" y="632" width="1" height="2" fill="#c0c0c0"/>
<rect x="163" y="632" width="1" height="9" fill="#c0c0c0"/>
<rect x="171" y="632" width="1" height="11" fill="#c0c0c0"/>
<rect x="179" y="632" width="1" height="13" fill="#c0c0c0"/>
<rect x="187" y="632" width="1" height="16" fill="#c0c0c0"/>
<rect x="195" y="632" width="1" height="20" fill="#c0c0c0"/>
<rect x="203" y="632" width="1" height="17" fill="#c0c0c0"/>
<rect x="211" y="632" width="1" height="15" fill="#c0c0c0"/>
<rect x="219" y="632" width="1" height="12" fill="#c0c0c0"/>
<rect x="227" y="632" width="1" height="8" fill="#c0c0c0"/>
<rect x="235" y="632" width="1" height="8" fill="#c0c0c0"/>
<rect x="243" y="632" width="1" height="6" fill="#c0c0c0"/>
<rect x="251" y="632" width="1" height="5" fill="#c0c0c0"/>
<rect x="259" y="632" width="1" height="4" fill="#c0c0c0"/>
<rect x="267" y="632" width="1" height="2" fill="#c0c0c0"/>
<rect x="275" y="632" width="1" height="2" fill="#c0c0c0"/>
<rect x="283" y="630" width="1" height="3" fill="#c0c0c0"/>
<rect x="291" y="625" width="1" height="8" fill="#c0c0c0"/>
<rect x="299" y="622" width="1" height="11" fill="#c0c0c0"/>
<rect x="307" y="619" width="1" height="14" fill="#c0c0c0"/>
<rect x="315" y="615" width="1" height="18" fill="#c0c0c0"/>
<rect x="323" y="613" width="1" height="20" fill="#c0c0c0"/>
<rect x="331" y="608" width="1" height="25" fill="#c0c0c0"/>
<rect x="339" y="604" width="1" height="29" fill="#c0c0c0"/>
<rect x="347" y="596" width="1" height="37" fill="#c0c0c0"/>
<rect x="355" y="592" width="1" height="41" fill="#c0c0c0"/>
<rect x="363" y="591" width="1" height="42" fill="#c0c0c0"/>
<rect x="371" y="589" width="1" height="44" fill="#c0c0c0"/>
<rect x="379" y="589" width="1" height="44" fill="#c0c0c0"/>
<rect x="387" y="591" width="1" height="42" fill="#c0c0c0"/>
<rect x="395" y="594" width="1" height="39" fill="#c0c0c0"/>
<rect x="403" y="596" width="1" height="37" fill="#c0c0c0"/>
<rect x="411" y="597" width="1" height="36" fill="#c0c0c0"/>
<rect x="419" y="602" width="1" height="31" fill="#c0c0c0"/>
<rect x="427" y="603" width="1" height="30" fill="#c0c0c0"/>
<rect x="435" y="610" width="1" height="23" fill="#c0c0c0"/>
<rect x="443" y="623" width="1" height="10" fill="#c0c0c0"/>
<rect x="451" y="628" width="1" height="5" fill="#c0c0c0"/>
<rect x="459" y="631" width="1" height="2" fill="#c0c0c0"/>
<rect x="467" y="632" width="1" height="3" fill="#c0c0c0"/>
<rect x="475" y="632" width="1" height="2" fill="#c0c0c0"/>
<rect x="483" y="632" width="1" height="2" fill="#c0c0c0"/>
<rect x="491" y="632" width="1" height="7" fill="#c0c0c0"/>
<rect x="499" y="632" width="1" height="17" fill="#c0c0c0"/>
<rect x="507" y="632" width="1" height="32" fill="#c0c0c0"/>
<rect x="515" y="632" width="1" height="45" fill="#c0c0c0"/>
<rect x="523" y="632" width="1" height="55" fill="#c0c0c0"/>
<rect x="531" y="632" width="1" height="66" fill="#c0c0c0"/>
<rect x="539" y="632" width="1" height="90" fill="#c0c0c0"/>
<rect x="547" y="632" width="1" height="93" fill="#c0c0c0"/>
<rect x="555" y="632" width="1" height="90" fill="#c0c0c0"/>
<rect x="563" y="632" width="1" height="82" fill="#c0c0c0"/>
<rect x="571" y="632" width="1" height="72" fill="#c0c0c0"/>
<rect x="579" y="632" width="1" height="66" fill="#c0c0c0"/>
<rect x="587" y="632" width="1" height="56" fill="#c0c0c0"/>
<rect x="595" y="632" width="1" height="50" fill="#c0c0c0"/>
<rect x="603" y="632" width="1" height="44" fill="#c0c0c0"/>
<rect x="611" y="632" width="1" height="36" fill="#c0c0c0"/>
<rect x="619" y="632" width="1" height="29" fill="#c0c0c0"/>
<rect x="627" y="632" width="1" height="22" fill="#c0c0c0"/>
<rect x="635" y="632" width="1" height="16" fill="#c0c0c0"/>
<rect x="643" y="632" width="1" height="14" fill="#c0c0c0"/>
<rect x="651" y="632" width="1" height="14" fill="#c0c0c0"/>
<rect x="659" y="632" width="1" height="13" fill="#c0c0c0"/>
<rect x="667" y="632" width="1" height="13" fill="#c0c0c0"/>
<rect x="675" y="632" width="1" height="11" fill="#c0c0c0"/>
<rect x="683" y="632" width="1" height="7" fill="#c0c0c0"/>
<rect x="691" y="632" width="1" height="3" fill="#c0c0c0"/>
<rect x="699" y="629" width="1" height="4" fill="#c0c0c0"/>
<rect x="707" y="624" width="1" height="9" fill="#c0c0c0"/>
<rect x="715" y="618" width="1" height="15" fill="#c0c0c0"/>
<rect x="723" y="612" width="1" height="21" fill="#c0c0c0"/>
<rect x="731" y="608" width="1" height="25" fill="#c0c0c0"/>
<rect x="739" y="608" width="1" height="25" fill="#c0c0c0"/>
<rect x="747" y="607" width="1" height="26" fill="#c0c0c0"/>
<rect x="755" y="606" width="1" height="27" fill="#c0c0c0"/>
<rect x="763" y="606" width="1" height="27" fill="#c0c0c0"/>
<rect x="771" y="605" width="1" height="28" fill="#c0c0c0"/>
<rect x="779" y="606" width="1" height="27" fill="#c0c0c0"/>
<rect x="787" y="609" width="1" height="24" fill="#c0c0c0"/>
<rect x="795" y="612" width="1" height="21" fill="#c0c0c0"/>
<rect x="803" y="615" width="1" height="18" fill="#c0c0c0"/>
<rect x="811" y="618" width="1" height="15" fill="#c0c0c0"/>
<rect x="819" y="621" width="1" height="12" fill="#c0c0c0"/>
<rect x="827" y="629" width="1" height="4" fill="#c0c0c0"/>
<rect x="835" y="631" width="1" height="2" fill="#c0c0c0"/>
<rect x="843" y="632" width="1" height="1" fill="#c0c0c0"/>
<rect x="851" y="632" width="1" height="3" fill="#c0c0c0"/>
<rect x="859" y="632" width="1" height="4" fill="#c0c0c0"/>
<rect x="867" y="632" width="1" height="4" fill="#c0c0c0"/>
<rect x="875" y="632" width="1" height="6" fill="#c0c0c0"/>
<rect x="883" y="632" width="1" height="14" fill="#c0c0c0"/>
<rect x="891" y="632" width="1" height="17" fill="#c0c0c0"/>
<rect x="899" y="632" width="1" height="20" fill="#c0c0c0"/>
<rect x="907" y="632" width="1" height="20" fill="#c0c0c0"/>
<rect x="915" y="632" width="1" height="17" fill="#c0c0c0"/>
<rect x="923" y="632" width="1" height="21" fill="#c0c0c0"/>
<rect x="931" y="632" width="1" height="25" fill="#c0c0c0"/>
<rect x="939" y="632" width="1" height="24" fill="#c0c0c0"/>
<rect x="947" y="632" width="1" height="23" fill="#c0c0c0"/>
<rect x="955" y="632" width="1" height="21" fill="#c0c0c0"/>
<rect x="963" y="632" width="1" height="21" fill="#c0c0c0"/>
<rect x="971" y="632" width="1" height="18" fill="#c0c0c0"/>
<rect x="979" y="632" width="1" height="16" fill="#c0c0c0"/>
<rect x="987" y="632" width="1" height="15" fill="#c0c0c0"/>
<rect x="995" y="632" width="1" height="14" fill="#c0c0c0"/>
<rect x="1003" y="632" width="1" height="13" fill="#c0c0c0"/>
<rect x="1011" y="632" width="1" height="13" fill="#c0c0c0"/>
<rect x="1019" y="632" width="1" height="17" fill="#c0c0c0"/>
<rect x="1027" y="632" width="1" height="19" fill="#c0c0c0"/>
<rect x="1035" y="632" width="1" height="20" fill="#c0c0c0"/>
<rect x="1043" y="632" width="1" height="21" fill="#c0c0c0"/>
<rect x="1051" y="632" width="1" height="21" fill="#c0c0c0"/>
<rect x="1059" y="632" width="1" height="19" fill="#c0c0c0"/>
<rect x="1067" y="632" width="1" height="18" fill="#c0c0c0"/>
<rect x="1075" y="632" width="1" height="20" fill="#c0c0c0"/>
<rect x="1083" y="632" width="1" height="30" fill="#c0c0c0"/>
<rect x="1091" y="632" width="1" height="36" fill="#c0c0c0"/>
<rect x="1099" y="632" width="1" height="41" fill="#c0c0c0"/>
<rect x="1107" y="632" width="1" height="48" fill="#c0c0c0"/>
<rect x="1115" y="632" width="1" height="50" fill="#c0c0c0"/>
<rect x="1123" y="632" width="1" height="48" fill="#c0c0c0"/>
<rect x="1131" y="632" width="1" height="48" fill="#c0c0c0"/>
<rect x="1139" y="632" width="1" height="48" fill="#c0c0c0"/>
<rect x="1147" y="632" width="1" height="47" fill="#c0c0c0"/>
<rect x="1155" y="632" width="1" height="47" fill="#c0c0c0"/>
<rect x="1163" y="632" width="1" height="52" fill="#c0c0c0"/>
<rect x="1171" y="632" width="1" height="72" fill="#c0c0c0"/>
<rect x="1179" y="632" width="1" height="88" fill="#c0c0c0"/>
<rect x="1187" y="632" width="1" height="95" fill="#c0c0c0"/>
<rect x="1195" y="632" width="1" height="99" fill="#c0c0c0"/>
<rect x="1203" y="632" width="1" height="105" fill="#c0c0c0"/>
<rect x="1211" y="632" width="1" height="111" fill="#c0c0c0"/>
<rect x="1219" y="632" width="1" height="89" fill="#c0c0c0"/>
<rect x="1227" y="632" width="1" height="65" fill="#c0c0c0"/>
<rect x="1235" y="632" width="1" height="44" fill="#c0c0c0"/>
<rect x="1243" y="632" width="1" height="27" fill="#c0c0c0"/>
<rect x="1251" y="632" width="1" height="15" fill="#c0c0c0"/>
<rect x="1259" y="632" width="1" height="3" fill="#c0c0c0"/>
<rect x="1267" y="630" width="1" height="3" fill="#c0c0c0"/>
<rect x="1275" y="620" width="1" height="13" fill="#c0c0c0"/>
<rect x="1283" y="612" width="1" height="21" fill="#c0c0c0"/>
<rect x="1291" y="604" width="1" height="29" fill="#c0c0c0"/>
<rect x="1299" y="598" width="1" height="35" fill="#c0c0c0"/>
<rect x="1307" y="592" width="1" height="41" fill="#c0c0c0"/>
<rect x="1315" y="590" width="1" height="43" fill="#c0c0c0"/>
<rect x="1323" y="594" width="1" height="39" fill="#c0c0c0"/>
<rect x="1331" y="598" width="1" height="35" fill="#c0c0c0"/>
<rect x="1339" y="601" width="1" height="32" fill="#c0c0c0"/>
<rect x="1347" y="604" width="1" height="29" fill="#c0c0c0"/>
<rect x="1355" y="603" width="1" height="30" fill="#c0c0c0"/>
<rect x="1363" y="603" width="1" height="30" fill="#c0c0c0"/>
<rect x="1371" y="603" width="1" height="30" fill="#c0c0c0"/>
<rect x="1379" y="604" width="1" height="29" fill="#c0c0c0"/>
<rect x="1387" y="607" width="1" height="26" fill="#c0c0c0"/>
</g>
<polyline points="-4.5,615.35 3.5,615.57 11.5,615.86 19.5,616.18 27.5,616.19 35.5,615.6 43.5,614.67 51.5,612.99 59.5,611.53 67.5,610.32 75.5,609.36 83.5,608.22 91.5,606.91 99.5,605.97 107.5,606.02 115.5,606.64 123.5,608.28 131.5,610.07 139.5,612.15 147.5,614.21 155.5,617.07 163.5,620.83 171.5,624.82 179.5,628.59 187.5,632.53 195.5,636.55 203.5,639.92 211.5,642.56 219.5,644.38 227.5,645.04 235.5,644.89 243.5,644.24 251.5,643.41 259.5,641.97 267.5,639.99 275.5,638.27 283.5,636.45 291.5,634.42 299.5,632.6 307.5,630.38 315.5,628 323.5,625.34 331.5,622.37 339.5,619.2 347.5,615.16 355.5,610.91 363.5,607.09 371.5,603.38 379.5,600.13 387.5,597.51 395.5,595.44 403.5,594.09 411.5,593.31 419.5,593.93 427.5,595.21 435.5,597.42 443.5,601.17 451.5,605.44 459.5,609.83 467.5,614.23 475.5,618.41 483.5,622.41 491.5,626.43 499.5,631.41 507.5,637.23 515.5,643.1 523.5,649.57 531.5,656.91 539.5,666.64 547.5,676.67 555.5,686.42 563.5,694.71 571.5,700.76 579.5,704.55 587.5,705.79 595.5,705.27 603.5,702.79 611.5,696.82 619.5,689.78 627.5,682.21 635.5,674.92 643.5,668.53 651.5,662.75 659.5,658.06 667.5,653.9 675.5,650.3 683.5,647.01 691.5,644.06 699.5,641.45 707.5,638.87 715.5,635.81 723.5,632.19 731.5,628.17 739.5,624.15 747.5,620.22 755.5,616.74 763.5,613.72 771.5,610.98 779.5,609.04 787.5,608.11 795.5,608.11 803.5,608.85 811.5,610.01 819.5,611.59 827.5,614.07 835.5,616.83 843.5,619.82 851.5,622.9 859.5,625.78 867.5,628.33 875.5,630.82 883.5,633.8 891.5,636.78 899.5,639.3 907.5,641.46 915.5,643.31 923.5,645.26 931.5,647.62 939.5,649.87 947.5,651.68 955.5,652.45 963.5,652.89 971.5,652.66 979.5,652.29 987.5,652.04 995.5,651.28 1003.5,649.86 1011.5,648.58 1019.5,647.91 1027.5,647.75 1035.5,647.65 1043.5,647.92 1051.5,648.37 1059.5,648.81 1067.5,649.23 1075.5,650.11 1083.5,652.04 1091.5,654.16 1099.5,656.52 1107.5,659.65 1115.5,662.87 1123.5,665.89 1131.5,669.15 1139.5,672.51 1147.5,675.42 1155.5,677.27 1163.5,679.03 1171.5,682.53 1179.5,686.9 1187.5,691.92 1195.5,697.64 1203.5,703.9 1211.5,710.95 1219.5,715.62 1227.5,717.69 1235.5,716.85 1243.5,711.85 1251.5,703.77 1259.5,693.61 1267.5,682.45 1275.5,669.58 1283.5,655.07 1291.5,642.27 1299.5,631.33 1307.5,622.12 1315.5,614.58 1323.5,608.81 1331.5,604.73 1339.5,601.53 1347.5,599.8 1355.5,598.82 1363.5,598.66 1371.5,599.17 1379.5,600.52 1387.5,602.38" fill="none" stroke="#ff0000" stroke-width="1" stroke-dasharray="3,3" shape-rendering="crispEdges"/>
<line x1="1313.3" y1="598.5" x2="1401.56" y2="614.58" stroke="#ff0000" stroke-width="3.1" stroke-linecap="butt"/>
<polygon points="1411,616.3 1398.43,618.33 1399.96,609.97" fill="#ff0000"/>
<text transform="translate(0 593) scale(0.94 1)" font-family="'Liberation Sans', sans-serif" font-size="9.75" fill="#000" stroke="#000" stroke-width="0.2" text-anchor="start" font-weight="normal" >MACD(12,26,9) 59.95 73.00</text>
</g>
<g id="rsi" clip-path="url(#cr)">
<line x1="0" y1="788.5" x2="1653" y2="788.5" stroke="#c0c0c0" stroke-width="1" stroke-dasharray="3,3" stroke-dashoffset="4" shape-rendering="crispEdges"/>
<line x1="0" y1="839.5" x2="1653" y2="839.5" stroke="#c0c0c0" stroke-width="1" stroke-dasharray="3,3" stroke-dashoffset="4" shape-rendering="crispEdges"/>
<line x1="0" y1="900.5" x2="1653" y2="900.5" stroke="#c0c0c0" stroke-width="1" stroke-dasharray="3,3" stroke-dashoffset="4" shape-rendering="crispEdges"/>
<polyline points="-4.5,833.65 3.5,839.56 11.5,835.78 19.5,834.66 27.5,827.89 35.5,820.97 43.5,823.62 51.5,815.05 59.5,833.19 67.5,834.22 75.5,839.21 83.5,829.48 91.5,828.01 99.5,831.19 107.5,838.72 115.5,835.91 123.5,837.91 131.5,841.06 139.5,846.64 147.5,846.92 155.5,854.47 163.5,859.24 171.5,849.93 179.5,849.07 187.5,855.16 195.5,856.85 203.5,840.63 211.5,842.13 219.5,836.54 227.5,831.9 235.5,841.88 243.5,836.78 251.5,841.61 259.5,835.94 267.5,835.94 275.5,839.11 283.5,831.39 291.5,822.64 299.5,827.86 307.5,822.66 315.5,820.55 323.5,820.9 331.5,812.91 339.5,813.11 347.5,800.62 355.5,807.39 363.5,815.35 371.5,812.68 379.5,818.16 387.5,823.78 395.5,824.99 403.5,822.84 411.5,823.62 419.5,835.86 427.5,827.18 435.5,847.7 443.5,863.79 451.5,848.97 459.5,846.2 467.5,846.3 475.5,839.35 483.5,840.63 491.5,853.35 499.5,866.5 507.5,876.83 515.5,878.99 523.5,880.27 531.5,884.39 539.5,897.5 547.5,862.26 555.5,856.4 563.5,847.31 571.5,843.55 579.5,847.33 587.5,839.84 595.5,844.69 603.5,841.3 611.5,838.9 619.5,837.18 627.5,834.89 635.5,834.97 643.5,840.76 651.5,843.14 659.5,843.6 667.5,843.19 675.5,840.35 683.5,833.05 691.5,831.89 699.5,829.56 707.5,824.18 715.5,819.87 723.5,818.45 731.5,819.04 739.5,826.87 747.5,825.38 755.5,825.01 763.5,825.35 771.5,819.47 779.5,830.48 787.5,835.68 795.5,837.12 803.5,838.68 811.5,841.49 819.5,843.61 827.5,861.17 835.5,846.52 843.5,840.65 851.5,847.45 859.5,844.78 867.5,841.18 875.5,849.48 883.5,865.21 891.5,855.17 899.5,857.85 907.5,846.91 915.5,841.16 923.5,855.56 931.5,860.74 939.5,846.64 947.5,845.2 955.5,844.08 963.5,849.18 971.5,841.07 979.5,842.2 987.5,843.14 995.5,843.23 1003.5,842.42 1011.5,847.67 1019.5,859.08 1027.5,858.73 1035.5,853.14 1043.5,854.16 1051.5,851.72 1059.5,846.5 1067.5,846.5 1075.5,861.35 1083.5,879.49 1091.5,870.94 1099.5,873.12 1107.5,880.68 1115.5,864.07 1123.5,855.17 1131.5,861.56 1139.5,859.17 1147.5,858.39 1155.5,862.46 1163.5,872.64 1171.5,892.67 1179.5,892.73 1187.5,880.32 1195.5,879.35 1203.5,883.26 1211.5,886.44 1219.5,832.84 1227.5,827.41 1235.5,824.48 1243.5,825.43 1251.5,827.3 1259.5,825.1 1267.5,832.82 1275.5,824.55 1283.5,823.43 1291.5,821.96 1299.5,820.29 1307.5,818.74 1315.5,824.5 1323.5,834.28 1331.5,835.43 1339.5,834.89 1347.5,836.75 1355.5,827.31 1363.5,829.78 1371.5,827.78 1379.5,832.5 1387.5,836.15" fill="none" stroke="#1e90ff" stroke-width="1" shape-rendering="crispEdges"/>
<line x1="1286" y1="813" x2="1379.79" y2="826.73" stroke="#ff0000" stroke-width="3" stroke-linecap="butt"/>
<polygon points="1388.5,828 1377.04,830.37 1378.2,822.45" fill="#ff0000"/>
<text transform="translate(0 765) scale(0.94 1)" font-family="'Liberation Sans', sans-serif" font-size="9.75" fill="#000" stroke="#000" stroke-width="0.2" text-anchor="start" font-weight="normal" >RSI(14) 52.2387</text>
</g>
<g id="frame">
<g shape-rendering="crispEdges">
<rect x="0" y="0" width="1700" height="20" fill="#f0f0f0"/>
<rect x="0" y="20" width="1700" height="1" fill="#f8f8f8"/>
<rect x="0" y="21" width="1700" height="1" fill="#a0a0a0"/>
<rect x="0" y="22" width="1700" height="1" fill="#696969"/>
<rect x="1699" y="23" width="1" height="922" fill="#f0f0f0"/>
<rect x="0" y="25" width="1654" height="1" fill="#000"/>
<rect x="1653" y="25" width="1" height="554" fill="#000"/>
<rect x="1653" y="580" width="1" height="171" fill="#000"/>
<rect x="1653" y="752" width="1" height="175" fill="#000"/>
<rect x="0" y="578" width="1654" height="1" fill="#000"/>
<rect x="0" y="580" width="1654" height="1" fill="#000"/>
<rect x="0" y="750" width="1654" height="1" fill="#000"/>
<rect x="0" y="752" width="1654" height="1" fill="#000"/>
<rect x="0" y="926" width="1654" height="1" fill="#000"/>
<rect x="1654" y="582" width="1" height="1" fill="#000"/><rect x="1654" y="749" width="1" height="1" fill="#000"/><rect x="1654" y="754" width="1" height="1" fill="#000"/>
</g>
<polygon points="1397.5,26.2 1407,26.2 1402.2,30.8" fill="#b8b8b8"/>
<rect x="1654" y="47" width="2" height="1" fill="#000" shape-rendering="crispEdges"/>
<text transform="translate(1659.3 50.9) scale(0.94 1)" font-family="'Liberation Sans', sans-serif" font-size="9.75" fill="#000" stroke="#000" stroke-width="0.2" text-anchor="start" font-weight="normal" >29454.0</text>
<rect x="1654" y="80" width="2" height="1" fill="#000" shape-rendering="crispEdges"/>
<text transform="translate(1659.3 83.9) scale(0.94 1)" font-family="'Liberation Sans', sans-serif" font-size="9.75" fill="#000" stroke="#000" stroke-width="0.2" text-anchor="start" font-weight="normal" >29321.0</text>
<rect x="1654" y="113" width="2" height="1" fill="#000" shape-rendering="crispEdges"/>
<text transform="translate(1659.3 116.9) scale(0.94 1)" font-family="'Liberation Sans', sans-serif" font-size="9.75" fill="#000" stroke="#000" stroke-width="0.2" text-anchor="start" font-weight="normal" >29188.0</text>
<rect x="1654" y="147" width="2" height="1" fill="#000" shape-rendering="crispEdges"/>
<text transform="translate(1659.3 150.9) scale(0.94 1)" font-family="'Liberation Sans', sans-serif" font-size="9.75" fill="#000" stroke="#000" stroke-width="0.2" text-anchor="start" font-weight="normal" >29055.0</text>
<rect x="1654" y="179" width="2" height="1" fill="#000" shape-rendering="crispEdges"/>
<text transform="translate(1659.3 182.9) scale(0.94 1)" font-family="'Liberation Sans', sans-serif" font-size="9.75" fill="#000" stroke="#000" stroke-width="0.2" text-anchor="start" font-weight="normal" >28925.5</text>
<rect x="1654" y="212" width="2" height="1" fill="#000" shape-rendering="crispEdges"/>
<text transform="translate(1659.3 215.9) scale(0.94 1)" font-family="'Liberation Sans', sans-serif" font-size="9.75" fill="#000" stroke="#000" stroke-width="0.2" text-anchor="start" font-weight="normal" >28792.5</text>
<rect x="1654" y="245" width="2" height="1" fill="#000" shape-rendering="crispEdges"/>
<text transform="translate(1659.3 248.9) scale(0.94 1)" font-family="'Liberation Sans', sans-serif" font-size="9.75" fill="#000" stroke="#000" stroke-width="0.2" text-anchor="start" font-weight="normal" >28659.5</text>
<rect x="1654" y="344" width="2" height="1" fill="#000" shape-rendering="crispEdges"/>
<text transform="translate(1659.3 347.9) scale(0.94 1)" font-family="'Liberation Sans', sans-serif" font-size="9.75" fill="#000" stroke="#000" stroke-width="0.2" text-anchor="start" font-weight="normal" >28264.0</text>
<rect x="1654" y="377" width="2" height="1" fill="#000" shape-rendering="crispEdges"/>
<text transform="translate(1659.3 380.9) scale(0.94 1)" font-family="'Liberation Sans', sans-serif" font-size="9.75" fill="#000" stroke="#000" stroke-width="0.2" text-anchor="start" font-weight="normal" >28131.0</text>
<rect x="1654" y="410" width="2" height="1" fill="#000" shape-rendering="crispEdges"/>
<text transform="translate(1659.3 413.9) scale(0.94 1)" font-family="'Liberation Sans', sans-serif" font-size="9.75" fill="#000" stroke="#000" stroke-width="0.2" text-anchor="start" font-weight="normal" >27998.0</text>
<rect x="1654" y="443" width="2" height="1" fill="#000" shape-rendering="crispEdges"/>
<text transform="translate(1659.3 446.9) scale(0.94 1)" font-family="'Liberation Sans', sans-serif" font-size="9.75" fill="#000" stroke="#000" stroke-width="0.2" text-anchor="start" font-weight="normal" >27865.0</text>
<rect x="1654" y="476" width="2" height="1" fill="#000" shape-rendering="crispEdges"/>
<text transform="translate(1659.3 479.9) scale(0.94 1)" font-family="'Liberation Sans', sans-serif" font-size="9.75" fill="#000" stroke="#000" stroke-width="0.2" text-anchor="start" font-weight="normal" >27732.0</text>
<rect x="1654" y="510" width="2" height="1" fill="#000" shape-rendering="crispEdges"/>
<text transform="translate(1659.3 513.9) scale(0.94 1)" font-family="'Liberation Sans', sans-serif" font-size="9.75" fill="#000" stroke="#000" stroke-width="0.2" text-anchor="start" font-weight="normal" >27599.0</text>
<rect x="1654" y="542" width="2" height="1" fill="#000" shape-rendering="crispEdges"/>
<text transform="translate(1659.3 545.9) scale(0.94 1)" font-family="'Liberation Sans', sans-serif" font-size="9.75" fill="#000" stroke="#000" stroke-width="0.2" text-anchor="start" font-weight="normal" >27469.5</text>
<rect x="1654" y="575" width="2" height="1" fill="#000" shape-rendering="crispEdges"/>
<text transform="translate(1659.3 578.9) scale(0.94 1)" font-family="'Liberation Sans', sans-serif" font-size="9.75" fill="#000" stroke="#000" stroke-width="0.2" text-anchor="start" font-weight="normal" >27336.5</text>
<rect x="1655" y="274" width="41" height="11" fill="#000" shape-rendering="crispEdges"/>
<text transform="translate(1659.3 282.9) scale(0.94 1)" font-family="'Liberation Sans', sans-serif" font-size="9.75" fill="#fff" stroke="#fff" stroke-width="0.2" text-anchor="start" font-weight="normal" >28525.0</text>
<rect x="1655" y="225" width="41" height="11" fill="#ff0000" shape-rendering="crispEdges"/>
<text transform="translate(1659.3 233.9) scale(0.94 1)" font-family="'Liberation Sans', sans-serif" font-size="9.75" fill="#fff" stroke="#fff" stroke-width="0.2" text-anchor="start" font-weight="normal" >28715.3</text>
<rect x="1655" y="247" width="41" height="11" fill="#ff0000" shape-rendering="crispEdges"/>
<text transform="translate(1659.3 255.9) scale(0.94 1)" font-family="'Liberation Sans', sans-serif" font-size="9.75" fill="#fff" stroke="#fff" stroke-width="0.2" text-anchor="start" font-weight="normal" >28627.2</text>
<rect x="1655" y="266" width="41" height="11" fill="#32cd32" shape-rendering="crispEdges"/>
<text transform="translate(1659.3 274.9) scale(0.94 1)" font-family="'Liberation Sans', sans-serif" font-size="9.75" fill="#fff" stroke="#fff" stroke-width="0.2" text-anchor="start" font-weight="normal" >28551.1</text>
<rect x="1655" y="307" width="41" height="11" fill="#0000ff" shape-rendering="crispEdges"/>
<text transform="translate(1659.3 315.9) scale(0.94 1)" font-family="'Liberation Sans', sans-serif" font-size="9.75" fill="#fff" stroke="#fff" stroke-width="0.2" text-anchor="start" font-weight="normal" >28387.0</text>
<rect x="1655" y="333" width="41" height="11" fill="#0000ff" shape-rendering="crispEdges"/>
<text transform="translate(1659.3 341.9) scale(0.94 1)" font-family="'Liberation Sans', sans-serif" font-size="9.75" fill="#fff" stroke="#fff" stroke-width="0.2" text-anchor="start" font-weight="normal" >28282.9</text>
<text transform="translate(1657.5 591) scale(0.94 1)" font-family="'Liberation Sans', sans-serif" font-size="9.75" fill="#000" stroke="#000" stroke-width="0.2" text-anchor="start" font-weight="normal" >123.06</text>
<text transform="translate(1657.5 636) scale(0.94 1)" font-family="'Liberation Sans', sans-serif" font-size="9.75" fill="#000" stroke="#000" stroke-width="0.2" text-anchor="start" font-weight="normal" >0.00</text>
<text transform="translate(1656.8 747) scale(0.94 1)" font-family="'Liberation Sans', sans-serif" font-size="9.75" fill="#000" stroke="#000" stroke-width="0.2" text-anchor="start" font-weight="normal" >-285.88</text>
<rect x="1654" y="632" width="2" height="1" fill="#000" shape-rendering="crispEdges"/>
<text transform="translate(1657.6 762.9) scale(0.94 1)" font-family="'Liberation Sans', sans-serif" font-size="9.75" fill="#000" stroke="#000" stroke-width="0.2" text-anchor="start" font-weight="normal" >100</text>
<text transform="translate(1656 791.9) scale(0.94 1)" font-family="'Liberation Sans', sans-serif" font-size="9.75" fill="#000" stroke="#000" stroke-width="0.2" text-anchor="start" font-weight="normal" >80</text>
<text transform="translate(1656 842.9) scale(0.94 1)" font-family="'Liberation Sans', sans-serif" font-size="9.75" fill="#000" stroke="#000" stroke-width="0.2" text-anchor="start" font-weight="normal" >50</text>
<text transform="translate(1656 903.9) scale(0.94 1)" font-family="'Liberation Sans', sans-serif" font-size="9.75" fill="#000" stroke="#000" stroke-width="0.2" text-anchor="start" font-weight="normal" >15</text>
<text transform="translate(1657.6 922.9) scale(0.94 1)" font-family="'Liberation Sans', sans-serif" font-size="9.75" fill="#000" stroke="#000" stroke-width="0.2" text-anchor="start" font-weight="normal" >0</text>
<text transform="translate(2.3 939) scale(0.94 1)" font-family="'Liberation Sans', sans-serif" font-size="9.75" fill="#000" stroke="#000" stroke-width="0.2" text-anchor="start" font-weight="normal" >Jun 2021</text>
<rect x="59" y="927" width="1" height="3" fill="#000" shape-rendering="crispEdges"/>
<text transform="translate(58.5 939) scale(0.94 1)" font-family="'Liberation Sans', sans-serif" font-size="9.75" fill="#000" stroke="#000" stroke-width="0.2" text-anchor="start" font-weight="normal" >7 Jun 00:00</text>
<rect x="123" y="927" width="1" height="3" fill="#000" shape-rendering="crispEdges"/>
<text transform="translate(122.5 939) scale(0.94 1)" font-family="'Liberation Sans', sans-serif" font-size="9.75" fill="#000" stroke="#000" stroke-width="0.2" text-anchor="start" font-weight="normal" >8 Jun 09:00</text>
<rect x="187" y="927" width="1" height="3" fill="#000" shape-rendering="crispEdges"/>
<text transform="translate(186.5 939) scale(0.94 1)" font-family="'Liberation Sans', sans-serif" font-size="9.75" fill="#000" stroke="#000" stroke-width="0.2" text-anchor="start" font-weight="normal" >9 Jun 18:55</text>
<rect x="251" y="927" width="1" height="3" fill="#000" shape-rendering="crispEdges"/>
<text transform="translate(250.5 939) scale(0.94 1)" font-family="'Liberation Sans', sans-serif" font-size="9.75" fill="#000" stroke="#000" stroke-width="0.2" text-anchor="start" font-weight="normal" >11 Jun 00:00</text>
<rect x="315" y="927" width="1" height="3" fill="#000" shape-rendering="crispEdges"/>
<text transform="translate(314.5 939) scale(0.94 1)" font-family="'Liberation Sans', sans-serif" font-size="9.75" fill="#000" stroke="#000" stroke-width="0.2" text-anchor="start" font-weight="normal" >14 Jun 10:55</text>
<rect x="379" y="927" width="1" height="3" fill="#000" shape-rendering="crispEdges"/>
<text transform="translate(378.5 939) scale(0.94 1)" font-family="'Liberation Sans', sans-serif" font-size="9.75" fill="#000" stroke="#000" stroke-width="0.2" text-anchor="start" font-weight="normal" >15 Jun 18:55</text>
<rect x="443" y="927" width="1" height="3" fill="#000" shape-rendering="crispEdges"/>
<text transform="translate(442.5 939) scale(0.94 1)" font-family="'Liberation Sans', sans-serif" font-size="9.75" fill="#000" stroke="#000" stroke-width="0.2" text-anchor="start" font-weight="normal" >17 Jun 00:00</text>
<rect x="507" y="927" width="1" height="3" fill="#000" shape-rendering="crispEdges"/>
<text transform="translate(506.5 939) scale(0.94 1)" font-family="'Liberation Sans', sans-serif" font-size="9.75" fill="#000" stroke="#000" stroke-width="0.2" text-anchor="start" font-weight="normal" >18 Jun 10:55</text>
<rect x="571" y="927" width="1" height="3" fill="#000" shape-rendering="crispEdges"/>
<text transform="translate(570.5 939) scale(0.94 1)" font-family="'Liberation Sans', sans-serif" font-size="9.75" fill="#000" stroke="#000" stroke-width="0.2" text-anchor="start" font-weight="normal" >21 Jun 18:55</text>
<rect x="635" y="927" width="1" height="3" fill="#000" shape-rendering="crispEdges"/>
<text transform="translate(634.5 939) scale(0.94 1)" font-family="'Liberation Sans', sans-serif" font-size="9.75" fill="#000" stroke="#000" stroke-width="0.2" text-anchor="start" font-weight="normal" >23 Jun 00:00</text>
<rect x="699" y="927" width="1" height="3" fill="#000" shape-rendering="crispEdges"/>
<text transform="translate(698.5 939) scale(0.94 1)" font-family="'Liberation Sans', sans-serif" font-size="9.75" fill="#000" stroke="#000" stroke-width="0.2" text-anchor="start" font-weight="normal" >24 Jun 10:55</text>
<rect x="763" y="927" width="1" height="3" fill="#000" shape-rendering="crispEdges"/>
<text transform="translate(762.5 939) scale(0.94 1)" font-family="'Liberation Sans', sans-serif" font-size="9.75" fill="#000" stroke="#000" stroke-width="0.2" text-anchor="start" font-weight="normal" >25 Jun 18:55</text>
<rect x="827" y="927" width="1" height="3" fill="#000" shape-rendering="crispEdges"/>
<text transform="translate(826.5 939) scale(0.94 1)" font-family="'Liberation Sans', sans-serif" font-size="9.75" fill="#000" stroke="#000" stroke-width="0.2" text-anchor="start" font-weight="normal" >29 Jun 00:00</text>
<rect x="891" y="927" width="1" height="3" fill="#000" shape-rendering="crispEdges"/>
<text transform="translate(890.5 939) scale(0.94 1)" font-family="'Liberation Sans', sans-serif" font-size="9.75" fill="#000" stroke="#000" stroke-width="0.2" text-anchor="start" font-weight="normal" >30 Jun 10:55</text>
<rect x="955" y="927" width="1" height="3" fill="#000" shape-rendering="crispEdges"/>
<text transform="translate(954.5 939) scale(0.94 1)" font-family="'Liberation Sans', sans-serif" font-size="9.75" fill="#000" stroke="#000" stroke-width="0.2" text-anchor="start" font-weight="normal" >1 Jul 18:55</text>
<rect x="1019" y="927" width="1" height="3" fill="#000" shape-rendering="crispEdges"/>
<text transform="translate(1018.5 939) scale(0.94 1)" font-family="'Liberation Sans', sans-serif" font-size="9.75" fill="#000" stroke="#000" stroke-width="0.2" text-anchor="start" font-weight="normal" >5 Jul 00:00</text>
<rect x="1083" y="927" width="1" height="3" fill="#000" shape-rendering="crispEdges"/>
<text transform="translate(1082.5 939) scale(0.94 1)" font-family="'Liberation Sans', sans-serif" font-size="9.75" fill="#000" stroke="#000" stroke-width="0.2" text-anchor="start" font-weight="normal" >6 Jul 10:55</text>
<rect x="1147" y="927" width="1" height="3" fill="#000" shape-rendering="crispEdges"/>
<text transform="translate(1146.5 939) scale(0.94 1)" font-family="'Liberation Sans', sans-serif" font-size="9.75" fill="#000" stroke="#000" stroke-width="0.2" text-anchor="start" font-weight="normal" >7 Jul 18:55</text>
<rect x="1211" y="927" width="1" height="3" fill="#000" shape-rendering="crispEdges"/>
<text transform="translate(1210.5 939) scale(0.94 1)" font-family="'Liberation Sans', sans-serif" font-size="9.75" fill="#000" stroke="#000" stroke-width="0.2" text-anchor="start" font-weight="normal" >9 Jul 00:00</text>
<rect x="1275" y="927" width="1" height="3" fill="#000" shape-rendering="crispEdges"/>
<text transform="translate(1274.5 939) scale(0.94 1)" font-family="'Liberation Sans', sans-serif" font-size="9.75" fill="#000" stroke="#000" stroke-width="0.2" text-anchor="start" font-weight="normal" >12 Jul 10:55</text>
<rect x="1339" y="927" width="1" height="3" fill="#000" shape-rendering="crispEdges"/>
<text transform="translate(1338.5 939) scale(0.94 1)" font-family="'Liberation Sans', sans-serif" font-size="9.75" fill="#000" stroke="#000" stroke-width="0.2" text-anchor="start" font-weight="normal" >13 Jul 18:55</text>
</g>
<g id="panel">
<polygon points="-1.5,36.4 1.9,31.8 5.2,36.4" fill="#000"/>
<text transform="translate(9.8 37.4) scale(0.94 1)" font-family="'Liberation Sans', sans-serif" font-size="9.75" fill="#000" stroke="#000" stroke-width="0.2" text-anchor="start" font-weight="normal" xml:space="preserve">JPN225-,H4&#160;&#160;28560.0 28572.5 28492.5 28525.0</text>
<defs>
<linearGradient id="rg" x1="0" y1="0" x2="0" y2="1"><stop offset="0" stop-color="#f55252"/><stop offset="0.42" stop-color="#de3030"/><stop offset="0.43" stop-color="#d82828"/><stop offset="1" stop-color="#b20505"/></linearGradient>
<linearGradient id="bg1" x1="0" y1="0" x2="0" y2="1"><stop offset="0" stop-color="#f4f4f4"/><stop offset="0.5" stop-color="#e4e4e4"/><stop offset="0.5" stop-color="#d4d4d4"/><stop offset="1" stop-color="#dcdcdc"/></linearGradient>
</defs>
<path d="M0,45 H49.7 V69 H106.7 V101.8 H0 Z" fill="url(#rg)"/>
<path d="M165.2,45 H217 V101.8 H109.1 V69 H165.2 Z" fill="url(#rg)"/>
<rect x="0" y="45" width="49.7" height="1" fill="#cc1a1a"/><rect x="165.2" y="45" width="51.8" height="1" fill="#cc1a1a"/>
<rect x="48.9" y="45" width="0.8" height="24" fill="#c41414"/><rect x="216.2" y="45" width="0.8" height="56.8" fill="#b80c0c"/><rect x="165.2" y="45" width="0.8" height="24" fill="#d42020"/>
<rect x="49.7" y="69" width="57" height="0.9" fill="#b81212"/><rect x="109.1" y="69" width="56.1" height="0.9" fill="#b81212"/>
<rect x="105.9" y="69" width="0.8" height="32.8" fill="#b01010"/><rect x="109.1" y="69" width="0.8" height="32.8" fill="#c01818"/>
<rect x="0" y="101" width="106.7" height="0.8" fill="#a80606"/><rect x="109.1" y="101" width="107.9" height="0.8" fill="#a80606"/>
<rect x="2" y="68.2" width="44" height="0.9" fill="#9c0c0c"/><rect x="2" y="69.1" width="44" height="0.8" fill="#f49090"/>
<rect x="169.1" y="68.2" width="44" height="0.9" fill="#9c0c0c"/><rect x="169.1" y="69.1" width="44" height="0.8" fill="#f49090"/>
<rect x="52.5" y="45.5" width="110" height="21" fill="#fff" stroke="#a4acb4" stroke-width="1"/>
<rect x="54" y="46.8" width="19" height="18" fill="url(#bg1)"/><rect x="73.3" y="46" width="0.9" height="20" fill="#b4bac0"/>
<rect x="143" y="46.8" width="18" height="18" fill="url(#bg1)"/><rect x="141.1" y="46" width="0.9" height="20" fill="#b4bac0"/>
<polygon points="59.8,54.3 65.3,54.3 62.55,57.2" fill="#4a5ab8"/>
<polygon points="148.8,57 154.4,57 151.6,53.8" fill="#4a5ab8"/>
<text x="137.4" y="59.9" font-family="'Liberation Sans', sans-serif" font-size="11.8" fill="#000" text-anchor="end" font-weight="normal" >1.00</text>
<text x="10.2" y="61" font-family="'Liberation Sans', sans-serif" font-size="12.3" fill="#fff" text-anchor="start" font-weight="normal" textLength="26" lengthAdjust="spacingAndGlyphs">SELL</text>
<text x="178.6" y="61" font-family="'Liberation Sans', sans-serif" font-size="12.3" fill="#fff" text-anchor="start" font-weight="normal" textLength="23" lengthAdjust="spacingAndGlyphs">BUY</text>
<text x="14.2" y="97.1" font-family="'Liberation Sans', sans-serif" font-size="12.4" fill="#fff" text-anchor="start" font-weight="bold" textLength="34.4" lengthAdjust="spacingAndGlyphs">28523</text>
<text x="124.5" y="97.1" font-family="'Liberation Sans', sans-serif" font-size="12.4" fill="#fff" text-anchor="start" font-weight="bold" textLength="34.2" lengthAdjust="spacingAndGlyphs">28546</text>
<text x="49.1" y="97.1" font-family="'Liberation Sans', sans-serif" font-size="33" fill="#fff" text-anchor="start" font-weight="normal" textLength="12.8" lengthAdjust="spacingAndGlyphs">.</text>
<text x="60.1" y="97.1" font-family="'Liberation Sans', sans-serif" font-size="33.7" fill="#fff" text-anchor="start" font-weight="normal" textLength="16.5" lengthAdjust="spacingAndGlyphs">5</text>
<text x="160.1" y="97.1" font-family="'Liberation Sans', sans-serif" font-size="33" fill="#fff" text-anchor="start" font-weight="normal" textLength="12.8" lengthAdjust="spacingAndGlyphs">.</text>
<text x="171.1" y="97.1" font-family="'Liberation Sans', sans-serif" font-size="33.7" fill="#fff" text-anchor="start" font-weight="normal" textLength="16.5" lengthAdjust="spacingAndGlyphs">5</text>
</g>
<g id="toolbar">
<defs>
<radialGradient id="lens" cx="0.4" cy="0.35" r="0.7"><stop offset="0" stop-color="#ffffff"/><stop offset="1" stop-color="#a8d0f0"/></radialGradient>
<linearGradient id="gold" x1="0" y1="0" x2="1" y2="1"><stop offset="0" stop-color="#f8dc70"/><stop offset="1" stop-color="#b8861c"/></linearGradient>
<linearGradient id="blu" x1="0" y1="0" x2="0" y2="1"><stop offset="0" stop-color="#6aa8f0"/><stop offset="1" stop-color="#1c58b8"/></linearGradient>
<radialGradient id="redb" cx="0.4" cy="0.3" r="0.8"><stop offset="0" stop-color="#f06848"/><stop offset="1" stop-color="#c01808"/></radialGradient>
</defs>
<circle cx="-1.8" cy="7" r="5.2" fill="url(#lens)" stroke="#6a8ab0" stroke-width="1.2"/><line x1="2" y1="12" x2="6" y2="17" stroke="#c89a30" stroke-width="2.4" stroke-linecap="round"/>
<rect x="13.8" y="1" width="1" height="18" fill="#a0a0a0"/>
<path d="M24.5,2.5 H32 L35.5,6 V14.5 H24.5 Z" fill="#fbfbfb" stroke="#8a8a8a" stroke-width="1"/><path d="M32,2.5 V6 H35.5" fill="none" stroke="#8a8a8a" stroke-width="0.8"/>
<rect x="26.5" y="5" width="3.5" height="1" fill="#909090"/><rect x="26.5" y="8" width="6" height="1" fill="#a0a0a0"/><rect x="26.5" y="10.5" width="4" height="1" fill="#a0a0a0"/>
<path d="M32.2,7.5 h3.6 v3.6 h3.6 v3.6 h-3.6 v3.6 h-3.6 v-3.6 h-3.6 v-3.6 h3.6 Z" fill="#22c322" stroke="#108a10" stroke-width="0.7"/>
<text x="43" y="13.6" font-family="'Liberation Sans','Noto Sans CJK SC',sans-serif" font-size="12" fill="#000" text-anchor="start" >新订单</text>
<path d="M91.5,10 L98,2.8 L106.5,8.5 L100.5,16.5 Z" fill="url(#gold)" stroke="#9a7018" stroke-width="0.8"/><path d="M91.5,10 L92,12.5 L100.5,18 L106.5,10.5 L106.5,8.5 L100.5,16.5 Z" fill="#e8d8a0" stroke="#9a7018" stroke-width="0.6"/>
<rect x="122.5" y="1.5" width="10" height="10" fill="#5a9ae0" stroke="#2860b0" stroke-width="0.8"/><rect x="124.5" y="4" width="6" height="1.2" fill="#e8f0ff"/><rect x="124.5" y="7" width="4" height="1.2" fill="#e8f0ff"/>
<path d="M121,16.5 a3,3 0 0 1 0.8,-5.8 a4,4 0 0 1 7.4,-0.6 a3.3,3.3 0 0 1 4.6,3.2 a2.3,2.3 0 0 1 -0.8,3.2 Z" fill="#f2f4fa" stroke="#8898c0" stroke-width="0.9"/>
<circle cx="155" cy="9.5" r="7.2" fill="none" stroke="#a8b8c8" stroke-width="1.3"/><circle cx="155" cy="9.5" r="4.6" fill="none" stroke="#88a0b8" stroke-width="1.3"/><circle cx="155" cy="9.5" r="2" fill="#3a78c8"/><path d="M155,10 L155.2,17.5" stroke="#30a030" stroke-width="2.2"/>
<ellipse cx="182.5" cy="5" rx="7.5" ry="3" fill="#7aa8e0" stroke="#4878b8" stroke-width="0.8"/><ellipse cx="182.5" cy="3.6" rx="3.6" ry="2.2" fill="#9cc0ec" stroke="#4878b8" stroke-width="0.6"/>
<path d="M176,7.5 L189,7.5 L185.5,16 L179,16 Z" fill="#f0c840" stroke="#b08818" stroke-width="0.7"/>
<circle cx="187" cy="13.3" r="3.9" fill="#e02818" stroke="#a01008" stroke-width="0.6"/><rect x="185.3" y="11.7" width="3.4" height="3.2" fill="#fff"/>
<text x="195" y="13.6" font-family="'Liberation Sans','Noto Sans CJK SC',sans-serif" font-size="12" fill="#000" text-anchor="start" >自动交易</text>
<rect x="249.8" y="1" width="1" height="18" fill="#a0a0a0"/>
<rect x="254" y="2" width="3" height="1" fill="#b0b0b0"/>
<rect x="254" y="4" width="3" height="1" fill="#b0b0b0"/>
<rect x="254" y="6" width="3" height="1" fill="#b0b0b0"/>
<rect x="254" y="8" width="3" height="1" fill="#b0b0b0"/>
<rect x="254" y="10" width="3" height="1" fill="#b0b0b0"/>
<rect x="254" y="12" width="3" height="1" fill="#b0b0b0"/>
<rect x="254" y="14" width="3" height="1" fill="#b0b0b0"/>
<rect x="254" y="16" width="3" height="1" fill="#b0b0b0"/>
<rect x="254" y="18" width="3" height="1" fill="#b0b0b0"/>
<path d="M267.5,4 V16.8 M265,14.8 H278.5" fill="none" stroke="#555555" stroke-width="1.1"/><path d="M276.8,13.2 L278.8,14.8 L276.8,16.4" fill="none" stroke="#555555" stroke-width="1"/><path d="M265.9,5.8 L267.5,3.6 L269.1,5.8" fill="none" stroke="#555555" stroke-width="1"/>
<path d="M274,5 V13 M274,6 h2.6 M271.4,11.5 h2.6" stroke="#20a020" stroke-width="1.3" fill="none"/>
<rect x="287.9" y="1" width="1" height="18" fill="#a0a0a0"/>
<rect x="290" y="0.5" width="22" height="19" fill="#f8f8f8" stroke="#d8d8d8" stroke-width="0.6"/>
<path d="M296.5,4 V16.8 M294,14.8 H307.5" fill="none" stroke="#555555" stroke-width="1.1"/><path d="M305.8,13.2 L307.8,14.8 L305.8,16.4" fill="none" stroke="#555555" stroke-width="1"/><path d="M294.9,5.8 L296.5,3.6 L298.1,5.8" fill="none" stroke="#555555" stroke-width="1"/>
<line x1="303" y1="2" x2="303" y2="13.5" stroke="#107010" stroke-width="1"/><rect x="301" y="4" width="4" height="7" fill="#20b020" stroke="#107010" stroke-width="0.7"/>
<path d="M324.5,4 V16.8 M322,14.8 H335.5" fill="none" stroke="#555555" stroke-width="1.1"/><path d="M333.8,13.2 L335.8,14.8 L333.8,16.4" fill="none" stroke="#555555" stroke-width="1"/><path d="M322.9,5.8 L324.5,3.6 L326.1,5.8" fill="none" stroke="#555555" stroke-width="1"/>
<path d="M324.5,11 Q328,3 331,6 T335.5,10" fill="none" stroke="#20a020" stroke-width="1.2"/>
<rect x="344.8" y="1" width="1" height="18" fill="#a0a0a0"/>
<line x1="364.0" y1="11.5" x2="369.0" y2="16.5" stroke="#d0a030" stroke-width="2.6" stroke-linecap="round"/>
<circle cx="360.0" cy="7" r="5.6" fill="url(#lens)" stroke="#5a88c0" stroke-width="1.3"/>
<rect x="357.0" y="6.2" width="6" height="1.7" fill="#2858b0"/>
<rect x="359.15" y="4" width="1.7" height="6" fill="#2858b0"/>
<line x1="392.3" y1="11.5" x2="397.3" y2="16.5" stroke="#d0a030" stroke-width="2.6" stroke-linecap="round"/>
<circle cx="388.3" cy="7" r="5.6" fill="url(#lens)" stroke="#5a88c0" stroke-width="1.3"/>
<rect x="385.3" y="6.2" width="6" height="1.7" fill="#2858b0"/>
<rect x="410" y="1.3" width="7.8" height="7.8" fill="#4a9a30"/><rect x="411.3" y="4.3" width="5.2" height="3" fill="#eef4fa"/><rect x="412.3" y="5.4" width="3.2" height="0.9" fill="#4a9a30"/>
<rect x="418.5" y="1.3" width="7.8" height="7.8" fill="#2858c8"/><rect x="419.8" y="4.3" width="5.2" height="3" fill="#eef4fa"/><rect x="420.8" y="5.4" width="3.2" height="0.9" fill="#2858c8"/>
<rect x="410" y="9.8" width="7.8" height="7.8" fill="#2858c8"/><rect x="411.3" y="12.8" width="5.2" height="3" fill="#eef4fa"/><rect x="412.3" y="13.9" width="3.2" height="0.9" fill="#2858c8"/>
<rect x="418.5" y="9.8" width="7.8" height="7.8" fill="#4a9a30"/><rect x="419.8" y="12.8" width="5.2" height="3" fill="#eef4fa"/><rect x="420.8" y="13.9" width="3.2" height="0.9" fill="#4a9a30"/>
<rect x="434.9" y="1" width="1" height="18" fill="#a0a0a0"/>
<path d="M447.5,4 V16.8 M445,14.8 H458.5" fill="none" stroke="#555555" stroke-width="1.1"/><path d="M456.8,13.2 L458.8,14.8 L456.8,16.4" fill="none" stroke="#555555" stroke-width="1"/><path d="M445.9,5.8 L447.5,3.6 L449.1,5.8" fill="none" stroke="#555555" stroke-width="1"/>
<polygon points="453,5 453,11 457.5,8" fill="#20a020"/>
<rect x="467.9" y="1" width="1" height="18" fill="#a0a0a0"/>
<path d="M477.2,4 V16.8 M474.7,14.8 H488.2" fill="none" stroke="#555555" stroke-width="1.1"/><path d="M486.5,13.2 L488.5,14.8 L486.5,16.4" fill="none" stroke="#555555" stroke-width="1"/><path d="M475.59999999999997,5.8 L477.2,3.6 L478.8,5.8" fill="none" stroke="#555555" stroke-width="1"/>
<line x1="483.5" y1="3" x2="483.5" y2="13" stroke="#2868a8" stroke-width="1.2"/><path d="M489,8 H484.8 M486.8,6 L484.6,8 L486.8,10" stroke="#d03010" stroke-width="1.2" fill="none"/>
<rect x="496.5" y="1" width="1" height="18" fill="#a0a0a0"/>
<path d="M507,2 H514 L517,5 V13.5 H507 Z" fill="#f8f8f8" stroke="#808080" stroke-width="0.9"/><text x="509" y="11" font-family="Liberation Serif, serif" font-style="italic" font-size="8" fill="#606060">f</text>
<path d="M515.8,6.8 h3.4 v3.6 h3.6 v3.4 h-3.6 v3.6 h-3.4 v-3.6 h-3.6 v-3.4 h3.6 Z" fill="#22c322" stroke="#108a10" stroke-width="0.7"/>
<polygon points="528.9,8.2 534.1,8.2 531.5,11" fill="#000"/>
<circle cx="553" cy="9.3" r="7.6" fill="url(#blu)" stroke="#184890" stroke-width="0.8"/><circle cx="553" cy="9.3" r="5.2" fill="#f4f8ff"/><path d="M553,5.5 V9.5 H556" stroke="#404040" stroke-width="1" fill="none"/>
<polygon points="567.9,8.2 573.1,8.2 570.5,11" fill="#000"/>
<rect x="584" y="2" width="16" height="14" fill="#f4f8ff" stroke="#5080c0" stroke-width="0.9"/><rect x="584" y="2" width="16" height="2.6" fill="#3868c0"/><path d="M586,9 l3,-1.5 l3,1 l3,-2 l3,0.5" stroke="#d03020" stroke-width="1" fill="none"/><path d="M586,13.5 l3,-1 l3,1 l3,-1.8 l3,0.8" stroke="#20a020" stroke-width="1" fill="none"/>
<polygon points="606.6999999999999,8.2 611.9,8.2 609.3,11" fill="#000"/>
<rect x="617.8" y="1" width="1" height="18" fill="#a0a0a0"/>
<rect x="622" y="2" width="3" height="1" fill="#b0b0b0"/>
<rect x="622" y="4" width="3" height="1" fill="#b0b0b0"/>
<rect x="622" y="6" width="3" height="1" fill="#b0b0b0"/>
<rect x="622" y="8" width="3" height="1" fill="#b0b0b0"/>
<rect x="622" y="10" width="3" height="1" fill="#b0b0b0"/>
<rect x="622" y="12" width="3" height="1" fill="#b0b0b0"/>
<rect x="622" y="14" width="3" height="1" fill="#b0b0b0"/>
<rect x="622" y="16" width="3" height="1" fill="#b0b0b0"/>
<rect x="622" y="18" width="3" height="1" fill="#b0b0b0"/>
<rect x="628" y="0.5" width="26" height="19" fill="#f8f8f8" stroke="#d8d8d8" stroke-width="0.6"/>
<path d="M636,2.5 L636,14.5 L638.8,11.8 L641,16.3 L643,15.3 L640.9,11 L644.8,11 Z" fill="#4a4a4a"/>
<path d="M668.3,2.5 V8 M668.3,11 V16.5 M661,9.5 H666.8 M669.8,9.5 H675.8" stroke="#505050" stroke-width="1" fill="none"/>
<rect x="684.9" y="1" width="1" height="18" fill="#a0a0a0"/>
<line x1="702.4" y1="3.5" x2="702.4" y2="15.5" stroke="#505050" stroke-width="1.1"/>
<line x1="724.7" y1="9.5" x2="737" y2="9.5" stroke="#505050" stroke-width="1.1"/>
<line x1="753" y1="16" x2="765.3" y2="4" stroke="#505050" stroke-width="1.1"/>
<path d="M779,11.5 L791.5,3 M780,14 L793,5.2 M781,16.5 L794,7.6 M782.3,8 L784.3,15.5 M786,5.6 L788,13 M789.6,3.2 L791.6,10.6" stroke="#505050" stroke-width="0.9" fill="none"/>
<text x="790" y="17.5" font-family="'Liberation Sans','Noto Sans CJK SC',sans-serif" font-size="6.5" fill="#303030" text-anchor="start" font-weight="bold">E</text>
<line x1="808" y1="3" x2="821" y2="3" stroke="#606060" stroke-width="0.9" stroke-dasharray="1.2,1.2"/>
<line x1="808" y1="6" x2="821" y2="6" stroke="#606060" stroke-width="0.9" stroke-dasharray="1.2,1.2"/>
<line x1="808" y1="9.5" x2="821" y2="9.5" stroke="#606060" stroke-width="0.9" stroke-dasharray="1.2,1.2"/>
<line x1="808" y1="13" x2="821" y2="13" stroke="#606060" stroke-width="0.9" stroke-dasharray="1.2,1.2"/>
<text x="818" y="17.5" font-family="'Liberation Sans','Noto Sans CJK SC',sans-serif" font-size="6.5" fill="#303030" text-anchor="start" font-weight="bold">F</text>
<text x="842.3" y="14" font-family="'Liberation Sans','Noto Sans CJK SC',sans-serif" font-size="12.5" fill="#484848" text-anchor="middle" >A</text>
<rect x="865" y="3" width="12" height="12.5" fill="none" stroke="#606060" stroke-width="0.9" stroke-dasharray="1.2,1.2"/>
<text x="871" y="13.8" font-family="'Liberation Sans','Noto Sans CJK SC',sans-serif" font-size="11.5" fill="#484848" text-anchor="middle" font-weight="bold">T</text>
<path d="M892,5.5 l3,-3 l3,3 l-3,3 Z" fill="#404040"/><path d="M900,13.5 l3,-3 l3,3 l-3,3 Z" fill="#404040"/><path d="M894,9 L899,12.5 L903,8" stroke="#404040" stroke-width="1.3" fill="none"/>
<polygon points="912.9,8.2 918.1,8.2 915.5,11" fill="#000"/>
<rect x="923.7" y="1" width="1" height="18" fill="#a0a0a0"/>
<rect x="928.5" y="2" width="3" height="1" fill="#b0b0b0"/>
<rect x="928.5" y="4" width="3" height="1" fill="#b0b0b0"/>
<rect x="928.5" y="6" width="3" height="1" fill="#b0b0b0"/>
<rect x="928.5" y="8" width="3" height="1" fill="#b0b0b0"/>
<rect x="928.5" y="10" width="3" height="1" fill="#b0b0b0"/>
<rect x="928.5" y="12" width="3" height="1" fill="#b0b0b0"/>
<rect x="928.5" y="14" width="3" height="1" fill="#b0b0b0"/>
<rect x="928.5" y="16" width="3" height="1" fill="#b0b0b0"/>
<rect x="928.5" y="18" width="3" height="1" fill="#b0b0b0"/>
<rect x="1075" y="0.5" width="24.5" height="19" fill="#f8f8f8" stroke="#d8d8d8" stroke-width="0.6"/>
<rect x="1073.5" y="1" width="1" height="18" fill="#a0a0a0"/>
<text x="946" y="12.5" font-family="'Liberation Sans','Noto Sans CJK SC',sans-serif" font-size="9.4" fill="#404040" text-anchor="middle" >M1</text>
<text x="974.2" y="12.5" font-family="'Liberation Sans','Noto Sans CJK SC',sans-serif" font-size="9.4" fill="#404040" text-anchor="middle" >M5</text>
<text x="1002.1" y="12.5" font-family="'Liberation Sans','Noto Sans CJK SC',sans-serif" font-size="9.4" fill="#404040" text-anchor="middle" >M15</text>
<text x="1030.5" y="12.5" font-family="'Liberation Sans','Noto Sans CJK SC',sans-serif" font-size="9.4" fill="#404040" text-anchor="middle" >M30</text>
<text x="1058.6" y="12.5" font-family="'Liberation Sans','Noto Sans CJK SC',sans-serif" font-size="9.4" fill="#404040" text-anchor="middle" >H1</text>
<text x="1085.7" y="12.5" font-family="'Liberation Sans','Noto Sans CJK SC',sans-serif" font-size="9.4" fill="#404040" text-anchor="middle" >H4</text>
<text x="1114.6" y="12.5" font-family="'Liberation Sans','Noto Sans CJK SC',sans-serif" font-size="9.4" fill="#404040" text-anchor="middle" >D1</text>
<text x="1143" y="12.5" font-family="'Liberation Sans','Noto Sans CJK SC',sans-serif" font-size="9.4" fill="#404040" text-anchor="middle" >W1</text>
<text x="1170.2" y="12.5" font-family="'Liberation Sans','Noto Sans CJK SC',sans-serif" font-size="9.4" fill="#404040" text-anchor="middle" >MN</text>
<rect x="1184.7" y="1" width="1" height="18" fill="#a0a0a0"/>
<circle cx="1656" cy="7" r="3.8" fill="#f4f8ff" stroke="#2868d0" stroke-width="1.5"/><line x1="1653.3" y1="10" x2="1648.3" y2="14.3" stroke="#2868d0" stroke-width="2" stroke-linecap="round"/>
<path d="M1673,10 a5,4 0 1 1 5,5 l-3,2.5 l0.5,-3 Z" fill="#f0f0f4" stroke="#a0a0a8" stroke-width="0.8"/>
<circle cx="1686.5" cy="6.5" r="7.7" fill="url(#redb)"/>
<text x="1686.3" y="11.2" font-family="'Liberation Sans','Noto Sans CJK SC',sans-serif" font-size="12.5" fill="#fff" text-anchor="middle" >1</text>
</g>
</svg>
</body></html>
